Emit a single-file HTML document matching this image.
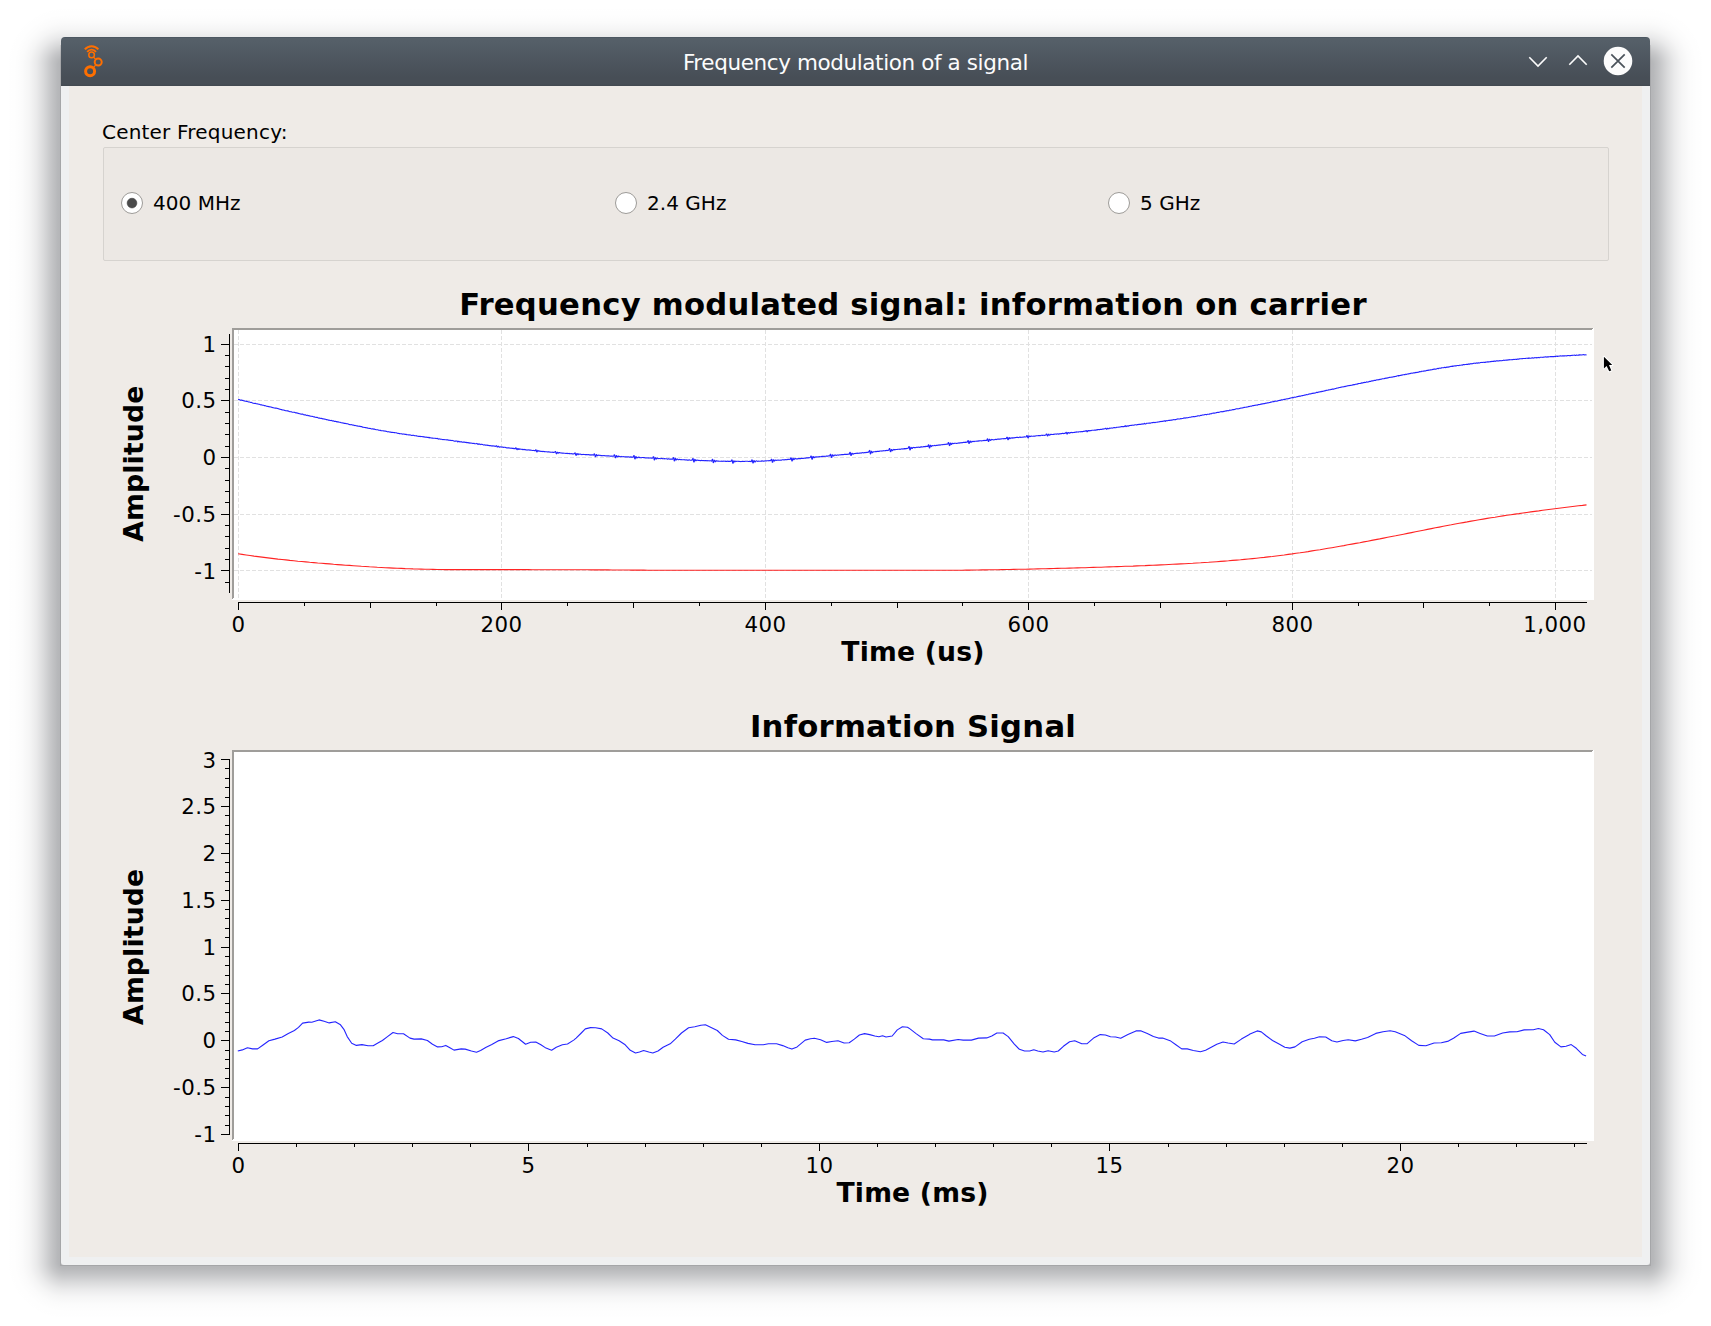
<!DOCTYPE html>
<html lang="en">
<head>
<meta charset="utf-8">
<title>Frequency modulation of a signal</title>
<style>
html,body{margin:0;padding:0;background:#fff;}
body{width:1711px;height:1326px;position:relative;overflow:hidden;
  font-family:"DejaVu Sans","Liberation Sans",sans-serif;color:#000;}
.abs{position:absolute;}
#win{left:61px;top:37px;width:1589px;height:1228px;border-radius:4px 4px 3px 3px;
  background:#eff0f1;overflow:hidden;}
#tbar{left:0;top:0;width:1589px;height:49px;
  background:linear-gradient(#4c5761 0px,#4c5761 1px,#566069 1px,#545e67 6px,#474e56 40px,#474e56 47px,#424950 49px);}
#ttl{left:0;top:0;width:1589px;height:52px;line-height:52px;text-align:center;color:#fcfcfc;
  font-family:"DejaVu Sans","Liberation Sans",sans-serif;font-size:21.5px;letter-spacing:-0.39px;white-space:nowrap;}
#body{left:8px;top:49px;width:1573px;height:1171px;background:#efebe7;}
.lbl{font-size:20px;line-height:24px;white-space:nowrap;letter-spacing:0.2px;}
.rl{letter-spacing:0.04px;}
#grp{left:103px;top:147px;width:1504px;height:112px;border:1px solid #d6d3cf;border-radius:2px;background:#ece8e4;}
svg text{font-family:"DejaVu Sans","Liberation Sans",sans-serif;fill:#000;}
.tl{font-size:21.33px;letter-spacing:0.45px;}
.at{font-size:26.67px;font-weight:bold;letter-spacing:0.18px;}
.pt{font-size:30.67px;font-weight:bold;letter-spacing:0.25px;}
</style>
</head>
<body>
<svg class="abs" style="left:0;top:0" width="1711" height="1326" viewBox="0 0 1711 1326">
<defs>
<linearGradient id="sl" x1="1" y1="0" x2="0" y2="0"><stop offset="0.0000" stop-color="#00040c" stop-opacity="0.3100"/><stop offset="0.1111" stop-color="#00040c" stop-opacity="0.2855"/><stop offset="0.2222" stop-color="#00040c" stop-opacity="0.2230"/><stop offset="0.3333" stop-color="#00040c" stop-opacity="0.1478"/><stop offset="0.4444" stop-color="#00040c" stop-opacity="0.0831"/><stop offset="0.5556" stop-color="#00040c" stop-opacity="0.0396"/><stop offset="0.6667" stop-color="#00040c" stop-opacity="0.0160"/><stop offset="0.7778" stop-color="#00040c" stop-opacity="0.0055"/><stop offset="0.8889" stop-color="#00040c" stop-opacity="0.0016"/><stop offset="0.9999" stop-color="#00040c" stop-opacity="0.0004"/><stop offset="1.0000" stop-color="#00040c" stop-opacity="0.0000"/></linearGradient>
<linearGradient id="sr" x1="0" y1="0" x2="1" y2="0"><stop offset="0.0000" stop-color="#00040c" stop-opacity="0.3100"/><stop offset="0.1111" stop-color="#00040c" stop-opacity="0.2855"/><stop offset="0.2222" stop-color="#00040c" stop-opacity="0.2230"/><stop offset="0.3333" stop-color="#00040c" stop-opacity="0.1478"/><stop offset="0.4444" stop-color="#00040c" stop-opacity="0.0831"/><stop offset="0.5556" stop-color="#00040c" stop-opacity="0.0396"/><stop offset="0.6667" stop-color="#00040c" stop-opacity="0.0160"/><stop offset="0.7778" stop-color="#00040c" stop-opacity="0.0055"/><stop offset="0.8889" stop-color="#00040c" stop-opacity="0.0016"/><stop offset="0.9999" stop-color="#00040c" stop-opacity="0.0004"/><stop offset="1.0000" stop-color="#00040c" stop-opacity="0.0000"/></linearGradient>
<linearGradient id="sb" x1="0" y1="0" x2="0" y2="1"><stop offset="0.0000" stop-color="#00040c" stop-opacity="0.3100"/><stop offset="0.1111" stop-color="#00040c" stop-opacity="0.2855"/><stop offset="0.2222" stop-color="#00040c" stop-opacity="0.2230"/><stop offset="0.3333" stop-color="#00040c" stop-opacity="0.1478"/><stop offset="0.4444" stop-color="#00040c" stop-opacity="0.0831"/><stop offset="0.5556" stop-color="#00040c" stop-opacity="0.0396"/><stop offset="0.6667" stop-color="#00040c" stop-opacity="0.0160"/><stop offset="0.7778" stop-color="#00040c" stop-opacity="0.0055"/><stop offset="0.8889" stop-color="#00040c" stop-opacity="0.0016"/><stop offset="0.9999" stop-color="#00040c" stop-opacity="0.0004"/><stop offset="1.0000" stop-color="#00040c" stop-opacity="0.0000"/></linearGradient>
<linearGradient id="st" x1="0" y1="1" x2="0" y2="0"><stop offset="0.0000" stop-color="#00040c" stop-opacity="0.3100"/><stop offset="0.1111" stop-color="#00040c" stop-opacity="0.2855"/><stop offset="0.2222" stop-color="#00040c" stop-opacity="0.2230"/><stop offset="0.3333" stop-color="#00040c" stop-opacity="0.1478"/><stop offset="0.4444" stop-color="#00040c" stop-opacity="0.0831"/><stop offset="0.5556" stop-color="#00040c" stop-opacity="0.0396"/><stop offset="0.6667" stop-color="#00040c" stop-opacity="0.0160"/><stop offset="0.7778" stop-color="#00040c" stop-opacity="0.0055"/><stop offset="0.8889" stop-color="#00040c" stop-opacity="0.0016"/><stop offset="0.9999" stop-color="#00040c" stop-opacity="0.0004"/><stop offset="1.0000" stop-color="#00040c" stop-opacity="0.0000"/></linearGradient>
<radialGradient id="ctl" cx="1" cy="1" r="1" gradientUnits="objectBoundingBox"><stop offset="0.0000" stop-color="#00040c" stop-opacity="0.3100"/><stop offset="0.1111" stop-color="#00040c" stop-opacity="0.2855"/><stop offset="0.2222" stop-color="#00040c" stop-opacity="0.2230"/><stop offset="0.3333" stop-color="#00040c" stop-opacity="0.1478"/><stop offset="0.4444" stop-color="#00040c" stop-opacity="0.0831"/><stop offset="0.5556" stop-color="#00040c" stop-opacity="0.0396"/><stop offset="0.6667" stop-color="#00040c" stop-opacity="0.0160"/><stop offset="0.7778" stop-color="#00040c" stop-opacity="0.0055"/><stop offset="0.8889" stop-color="#00040c" stop-opacity="0.0016"/><stop offset="0.9999" stop-color="#00040c" stop-opacity="0.0004"/><stop offset="1.0000" stop-color="#00040c" stop-opacity="0.0000"/></radialGradient>
<radialGradient id="ctr" cx="0" cy="1" r="1" gradientUnits="objectBoundingBox"><stop offset="0.0000" stop-color="#00040c" stop-opacity="0.3100"/><stop offset="0.1111" stop-color="#00040c" stop-opacity="0.2855"/><stop offset="0.2222" stop-color="#00040c" stop-opacity="0.2230"/><stop offset="0.3333" stop-color="#00040c" stop-opacity="0.1478"/><stop offset="0.4444" stop-color="#00040c" stop-opacity="0.0831"/><stop offset="0.5556" stop-color="#00040c" stop-opacity="0.0396"/><stop offset="0.6667" stop-color="#00040c" stop-opacity="0.0160"/><stop offset="0.7778" stop-color="#00040c" stop-opacity="0.0055"/><stop offset="0.8889" stop-color="#00040c" stop-opacity="0.0016"/><stop offset="0.9999" stop-color="#00040c" stop-opacity="0.0004"/><stop offset="1.0000" stop-color="#00040c" stop-opacity="0.0000"/></radialGradient>
<radialGradient id="cbl" cx="1" cy="0" r="1" gradientUnits="objectBoundingBox"><stop offset="0.0000" stop-color="#00040c" stop-opacity="0.3100"/><stop offset="0.1111" stop-color="#00040c" stop-opacity="0.2855"/><stop offset="0.2222" stop-color="#00040c" stop-opacity="0.2230"/><stop offset="0.3333" stop-color="#00040c" stop-opacity="0.1478"/><stop offset="0.4444" stop-color="#00040c" stop-opacity="0.0831"/><stop offset="0.5556" stop-color="#00040c" stop-opacity="0.0396"/><stop offset="0.6667" stop-color="#00040c" stop-opacity="0.0160"/><stop offset="0.7778" stop-color="#00040c" stop-opacity="0.0055"/><stop offset="0.8889" stop-color="#00040c" stop-opacity="0.0016"/><stop offset="0.9999" stop-color="#00040c" stop-opacity="0.0004"/><stop offset="1.0000" stop-color="#00040c" stop-opacity="0.0000"/></radialGradient>
<radialGradient id="cbr" cx="0" cy="0" r="1" gradientUnits="objectBoundingBox"><stop offset="0.0000" stop-color="#00040c" stop-opacity="0.3100"/><stop offset="0.1111" stop-color="#00040c" stop-opacity="0.2855"/><stop offset="0.2222" stop-color="#00040c" stop-opacity="0.2230"/><stop offset="0.3333" stop-color="#00040c" stop-opacity="0.1478"/><stop offset="0.4444" stop-color="#00040c" stop-opacity="0.0831"/><stop offset="0.5556" stop-color="#00040c" stop-opacity="0.0396"/><stop offset="0.6667" stop-color="#00040c" stop-opacity="0.0160"/><stop offset="0.7778" stop-color="#00040c" stop-opacity="0.0055"/><stop offset="0.8889" stop-color="#00040c" stop-opacity="0.0016"/><stop offset="0.9999" stop-color="#00040c" stop-opacity="0.0004"/><stop offset="1.0000" stop-color="#00040c" stop-opacity="0.0000"/></radialGradient>
</defs>
<rect x="1" y="65" width="64" height="1196" fill="url(#sl)"/>
<rect x="1646" y="65" width="64" height="1196" fill="url(#sr)"/>
<rect x="65" y="1261" width="1581" height="64" fill="url(#sb)"/>
<rect x="65" y="1" width="1581" height="64" fill="url(#st)"/>
<rect x="1" y="1" width="64" height="64" fill="url(#ctl)"/>
<rect x="1646" y="1" width="64" height="64" fill="url(#ctr)"/>
<rect x="1" y="1261" width="64" height="64" fill="url(#cbl)"/>
<rect x="1646" y="1261" width="64" height="64" fill="url(#cbr)"/>
<g fill="#000" fill-opacity="0.08"><rect x="60" y="45" width="1" height="1221"/><rect x="1650" y="45" width="1" height="1221"/><rect x="61" y="1265" width="1589" height="1"/></g>
</svg>
<div id="win" class="abs">
  <div id="tbar" class="abs"></div>
  <div id="ttl" class="abs">Frequency modulation of a signal</div>
  <div id="body" class="abs"></div>
</div>

<!-- title bar icons -->
<svg class="abs" style="left:0;top:0" width="1711" height="100" viewBox="0 0 1711 100">
  <!-- GNU Radio icon -->
  <g fill="none" stroke="#ff6f00">
    <path d="M84.9,49.4 A8.6,8.6 0 0 1 98.3,49.4" stroke-width="2.1"/>
    <path d="M87.2,51.8 A5.6,5.6 0 0 1 96.0,51.8" stroke-width="1.9"/>
    <circle cx="91.6" cy="54.9" r="2.8" stroke-width="1.5"/>
    <circle cx="98.2" cy="62.1" r="3.5" stroke-width="2"/>
    <circle cx="90.1" cy="71.3" r="4.5" stroke-width="3"/>
    <path d="M93.6,57.1 L95.8,59.5 M95.6,65.2 L93.4,67.6" stroke-width="1.2"/>
  </g>
  <!-- minimize / maximize chevrons -->
  <g fill="none" stroke="#fcfcfc" stroke-width="1.6" stroke-linejoin="miter">
    <path d="M1529.3,57.3 L1538,66 L1546.7,57.3"/>
    <path d="M1569.3,64.7 L1578,56 L1586.7,64.7"/>
  </g>
  <!-- close -->
  <circle cx="1618" cy="61" r="14.3" fill="#fcfcfc"/>
  <path d="M1611.3,54.3 L1624.7,67.7 M1624.7,54.3 L1611.3,67.7" stroke="#4a525a" stroke-width="1.7" fill="none"/>
</svg>

<!-- widgets -->
<div class="abs lbl" style="left:102px;top:120px;">Center Frequency:</div>
<div id="grp" class="abs"></div>
<div class="abs lbl rl" style="left:153px;top:191px;">400 MHz</div>
<div class="abs lbl rl" style="left:647px;top:191px;">2.4 GHz</div>
<div class="abs lbl rl" style="left:1140px;top:191px;">5 GHz</div>

<!-- plots -->
<svg class="abs" style="left:0;top:0" width="1711" height="1326" viewBox="0 0 1711 1326">
<rect x="232" y="328" width="1362" height="272" fill="#fff"/>
<g fill="#9f9d9a"><rect x="232" y="328" width="1361" height="2"/><rect x="232" y="328" width="2" height="271"/></g>
<g fill="#fff"><rect x="233" y="598" width="1361" height="2"/><rect x="1592" y="329" width="2" height="271"/></g>
<g stroke="#e1e1e1" stroke-width="1" stroke-dasharray="4 2" fill="none" shape-rendering="crispEdges">
<path d="M234,344.5 H1592"/>
<path d="M234,400.5 H1592"/>
<path d="M234,457.5 H1592"/>
<path d="M234,514.5 H1592"/>
<path d="M234,570.5 H1592"/>
<path d="M238.5,330 V598"/>
<path d="M501.5,330 V598"/>
<path d="M765.5,330 V598"/>
<path d="M1028.5,330 V598"/>
<path d="M1292.5,330 V598"/>
<path d="M1555.5,330 V598"/>
</g>
<clipPath id="c1"><rect x="234" y="330" width="1358" height="268"/></clipPath>
<g clip-path="url(#c1)" fill="none" stroke-width="1.1" stroke-opacity="0.86" stroke-linejoin="round">
<path stroke="#0000ff" d="M238.1,399.4 L238.6,399.6 L239.1,399.5 L239.6,399.8 L240.1,400.1 L240.6,400.2 L241.1,400.0 L241.6,400.1 L242.1,400.2 L242.6,400.5 L243.1,400.4 L243.6,400.7 L244.1,400.9 L244.6,400.9 L245.1,401.2 L245.6,401.2 L246.1,401.1 L246.6,401.5 L247.1,401.4 L247.6,401.6 L248.1,401.7 L248.6,402.0 L249.1,402.0 L249.6,402.0 L250.1,402.3 L250.6,402.5 L251.1,402.4 L251.6,402.5 L252.1,402.7 L252.6,403.0 L253.1,403.2 L253.6,403.2 L254.1,403.4 L254.6,403.5 L255.1,403.4 L255.6,403.4 L256.1,403.7 L256.6,403.8 L257.1,403.9 L257.6,403.9 L258.1,404.1 L258.6,404.3 L259.1,404.3 L259.6,404.4 L260.1,404.6 L260.6,404.9 L261.1,404.9 L261.6,404.9 L262.1,405.0 L262.6,405.2 L263.1,405.2 L263.6,405.3 L264.1,405.6 L264.6,405.5 L265.1,405.8 L265.6,405.8 L266.1,406.1 L266.6,406.2 L267.1,406.3 L267.6,406.5 L268.1,406.4 L268.6,406.7 L269.1,406.6 L269.6,406.9 L270.1,406.9 L270.6,407.0 L271.1,407.0 L271.6,407.2 L272.1,407.6 L272.6,407.4 L273.1,407.7 L273.6,407.8 L274.1,408.0 L274.6,408.0 L275.1,408.1 L275.6,408.0 L276.1,408.1 L276.6,408.3 L277.1,408.4 L277.6,408.5 L278.1,408.6 L278.6,408.9 L279.1,408.9 L279.6,409.3 L280.1,409.3 L280.6,409.4 L281.1,409.6 L281.6,409.5 L282.1,409.9 L282.6,410.0 L283.1,410.0 L283.6,410.0 L284.1,410.3 L284.6,410.4 L285.1,410.5 L285.6,410.7 L286.1,410.7 L286.6,410.7 L287.1,410.9 L287.6,410.8 L288.1,410.9 L288.6,411.3 L289.1,411.4 L289.6,411.6 L290.1,411.7 L290.6,411.7 L291.1,411.6 L291.6,411.9 L292.1,412.2 L292.6,412.2 L293.1,412.2 L293.6,412.3 L294.1,412.3 L294.6,412.4 L295.1,412.5 L295.6,412.9 L296.1,412.9 L296.6,412.8 L297.1,413.1 L297.6,413.0 L298.1,413.2 L298.6,413.5 L299.1,413.6 L299.6,413.7 L300.1,413.7 L300.6,414.0 L301.1,414.2 L301.6,414.1 L302.1,414.0 L302.6,414.1 L303.1,414.3 L303.6,414.8 L304.1,414.7 L304.6,414.9 L305.1,414.8 L305.6,414.9 L306.1,415.2 L306.6,415.4 L307.1,415.3 L307.6,415.3 L308.1,415.7 L308.6,415.6 L309.1,415.9 L309.6,415.7 L310.1,416.1 L310.6,416.3 L311.1,416.3 L311.6,416.3 L312.1,416.5 L312.6,416.4 L313.1,416.6 L313.6,416.7 L314.1,417.0 L314.6,416.8 L315.1,417.3 L315.6,417.3 L316.1,417.5 L316.6,417.4 L317.1,417.4 L317.6,417.5 L318.1,417.9 L318.6,418.1 L319.1,418.1 L319.6,418.1 L320.1,418.1 L320.6,418.4 L321.1,418.6 L321.6,418.3 L322.1,418.5 L322.6,418.9 L323.1,419.0 L323.6,418.9 L324.1,419.0 L324.6,419.1 L325.1,419.3 L325.6,419.2 L326.1,419.6 L326.6,419.6 L327.1,419.8 L327.6,419.7 L328.1,420.1 L328.6,420.1 L329.1,420.1 L329.6,420.4 L330.1,420.4 L330.6,420.6 L331.1,420.4 L331.6,420.5 L332.1,420.9 L332.6,420.8 L333.1,421.0 L333.6,420.9 L334.1,421.4 L334.6,421.3 L335.1,421.5 L335.6,421.3 L336.1,421.6 L336.6,421.5 L337.1,422.0 L337.6,421.9 L338.1,421.8 L338.6,422.0 L339.1,422.3 L339.6,422.2 L340.1,422.3 L340.6,422.5 L341.1,422.7 L341.6,422.8 L342.1,422.9 L342.6,422.9 L343.1,423.1 L343.6,423.0 L344.1,423.2 L344.6,423.5 L345.1,423.3 L345.6,423.5 L346.1,423.6 L346.6,423.8 L347.1,423.7 L347.6,423.8 L348.1,424.1 L348.6,424.1 L349.1,424.4 L349.6,424.6 L350.1,424.6 L350.6,424.7 L351.1,424.7 L351.6,424.6 L352.1,424.9 L352.6,425.0 L353.1,425.2 L353.6,425.1 L354.1,425.2 L354.6,425.6 L355.1,425.4 L355.6,425.6 L356.1,425.9 L356.6,425.7 L357.1,425.8 L357.6,426.1 L358.1,426.2 L358.6,426.3 L359.1,426.1 L359.6,426.4 L360.1,426.3 L360.6,426.5 L361.1,426.8 L361.6,426.6 L362.1,426.8 L362.6,427.2 L363.1,427.3 L363.6,427.2 L364.1,427.4 L364.6,427.5 L365.1,427.5 L365.6,427.8 L366.1,427.6 L366.6,427.9 L367.1,427.7 L367.6,428.2 L368.1,428.2 L368.6,428.2 L369.1,428.4 L369.6,428.4 L370.1,428.6 L370.6,428.4 L371.1,428.7 L371.6,428.9 L372.1,429.0 L372.6,428.8 L373.1,428.9 L373.6,429.3 L374.1,429.1 L374.6,429.1 L375.1,429.5 L375.6,429.5 L376.1,429.7 L376.6,429.7 L377.1,429.8 L377.6,429.8 L378.1,429.9 L378.6,430.2 L379.1,430.2 L379.6,430.3 L380.1,430.5 L380.6,430.3 L381.1,430.7 L381.6,430.7 L382.1,430.7 L382.6,430.8 L383.1,430.7 L383.6,431.0 L384.1,430.9 L384.6,431.1 L385.1,431.0 L385.6,431.1 L386.1,431.4 L386.6,431.4 L387.1,431.6 L387.6,431.7 L388.1,431.9 L388.6,431.6 L389.1,431.9 L389.6,432.0 L390.1,432.1 L390.6,432.1 L391.1,432.2 L391.6,432.4 L392.1,432.3 L392.6,432.4 L393.1,432.6 L393.6,432.4 L394.1,432.6 L394.6,432.6 L395.1,432.7 L395.6,432.7 L396.1,432.8 L396.6,432.9 L397.1,433.1 L397.6,433.2 L398.1,433.4 L398.6,433.4 L399.1,433.6 L399.6,433.5 L400.1,433.7 L400.6,433.7 L401.1,433.8 L401.6,433.7 L402.1,434.1 L402.6,434.1 L403.1,433.9 L403.6,434.1 L404.1,434.4 L404.6,434.1 L405.1,434.2 L405.6,434.5 L406.1,434.3 L406.6,434.7 L407.2,434.7 L407.7,434.8 L408.2,434.8 L408.7,435.0 L409.2,434.8 L409.7,435.0 L410.2,434.9 L410.7,435.1 L411.2,435.2 L411.7,435.5 L412.2,435.5 L412.7,435.2 L413.2,435.3 L413.7,435.4 L414.2,435.5 L414.7,435.8 L415.2,435.8 L415.7,435.8 L416.2,435.9 L416.7,435.7 L417.2,436.0 L417.7,436.2 L418.2,436.2 L418.7,436.4 L419.2,436.3 L419.7,436.5 L420.2,436.3 L420.7,436.6 L421.2,436.5 L421.7,436.5 L422.2,436.6 L422.7,436.7 L423.2,436.6 L423.7,437.0 L424.2,436.8 L424.7,437.1 L425.2,437.1 L425.7,437.2 L426.2,437.1 L426.7,437.2 L427.2,437.5 L427.7,437.4 L428.2,437.3 L428.7,437.7 L429.2,437.4 L429.7,437.9 L430.2,437.7 L430.7,437.8 L431.2,438.1 L431.7,437.9 L432.2,438.1 L432.7,438.0 L433.2,438.3 L433.7,438.3 L434.2,438.3 L434.7,438.2 L435.2,438.3 L435.7,438.5 L436.2,438.4 L436.7,438.6 L437.2,438.4 L437.7,438.5 L438.2,439.0 L438.7,439.1 L439.2,438.9 L439.7,439.0 L440.2,439.1 L440.7,439.2 L441.2,439.3 L441.7,439.2 L442.2,439.4 L442.7,439.6 L443.2,439.6 L443.7,439.5 L444.2,439.5 L444.7,439.7 L445.2,439.8 L445.7,439.8 L446.2,439.8 L446.7,439.9 L447.2,439.8 L447.7,439.9 L448.2,439.9 L448.7,440.2 L449.2,440.4 L449.7,440.1 L450.2,440.2 L450.7,440.5 L451.2,440.4 L451.7,440.6 L452.2,440.4 L452.7,440.6 L453.2,440.8 L453.7,440.9 L454.2,441.1 L454.7,441.2 L455.2,441.0 L455.7,441.1 L456.2,441.1 L456.7,441.0 L457.2,441.0 L457.7,441.9 L458.2,441.8 L458.7,441.2 L459.2,441.5 L459.7,441.9 L460.2,442.0 L460.7,441.7 L461.2,441.6 L461.7,442.0 L462.2,442.2 L462.7,442.1 L463.2,442.1 L463.7,442.1 L464.2,442.3 L464.7,442.1 L465.2,442.5 L465.7,442.4 L466.2,442.3 L466.7,442.7 L467.2,442.6 L467.7,442.5 L468.2,442.6 L468.7,443.0 L469.2,442.7 L469.7,443.1 L470.2,443.2 L470.7,442.9 L471.2,443.1 L471.7,443.3 L472.2,443.3 L472.7,443.5 L473.2,443.4 L473.7,443.5 L474.2,443.4 L474.7,443.8 L475.2,443.8 L475.7,443.8 L476.2,443.7 L476.7,443.4 L477.2,443.6 L477.7,444.3 L478.2,444.5 L478.7,443.9 L479.2,443.9 L479.7,444.3 L480.2,444.6 L480.7,444.2 L481.2,444.3 L481.7,444.4 L482.2,444.4 L482.7,444.6 L483.2,444.9 L483.7,445.0 L484.2,444.9 L484.7,444.9 L485.2,445.1 L485.7,445.1 L486.2,445.1 L486.7,445.2 L487.2,445.1 L487.7,445.5 L488.2,445.2 L488.7,445.4 L489.2,445.7 L489.7,445.6 L490.2,445.6 L490.7,445.8 L491.2,445.9 L491.7,445.9 L492.2,445.7 L492.7,446.1 L493.2,445.8 L493.7,446.1 L494.2,446.3 L494.7,446.0 L495.2,446.3 L495.7,446.4 L496.2,445.7 L496.7,445.8 L497.2,446.9 L497.7,447.0 L498.2,446.2 L498.7,446.3 L499.2,447.1 L499.7,447.1 L500.2,446.9 L500.7,446.9 L501.2,447.1 L501.7,446.9 L502.2,447.1 L502.7,447.0 L503.2,447.2 L503.7,447.4 L504.2,447.3 L504.7,447.3 L505.2,447.4 L505.7,447.5 L506.2,447.8 L506.7,447.9 L507.2,447.8 L507.7,448.0 L508.2,447.9 L508.7,447.8 L509.2,447.9 L509.7,448.1 L510.2,448.1 L510.7,448.2 L511.2,448.2 L511.7,448.1 L512.2,448.5 L512.7,448.2 L513.2,448.6 L513.7,448.3 L514.2,448.7 L514.7,448.5 L515.2,448.8 L515.7,447.8 L516.2,448.0 L516.7,449.4 L517.2,449.7 L517.7,448.6 L518.2,448.6 L518.7,449.4 L519.2,449.5 L519.7,448.8 L520.2,449.1 L520.7,449.3 L521.2,449.3 L521.7,449.2 L522.2,449.6 L522.7,449.3 L523.2,449.7 L523.7,449.5 L524.2,449.4 L524.7,449.8 L525.2,449.5 L525.7,449.9 L526.2,449.9 L526.7,450.0 L527.2,450.1 L527.7,449.9 L528.2,449.9 L528.7,450.0 L529.2,449.9 L529.7,450.2 L530.2,450.0 L530.7,450.1 L531.2,450.2 L531.7,450.3 L532.2,450.5 L532.7,450.5 L533.2,450.5 L533.7,450.4 L534.2,450.6 L534.7,450.5 L535.2,450.8 L535.7,449.7 L536.2,450.0 L536.7,451.9 L537.2,451.9 L537.7,450.4 L538.2,450.5 L538.7,451.3 L539.2,451.3 L539.7,450.9 L540.2,451.3 L540.7,451.4 L541.2,451.5 L541.7,451.4 L542.2,451.3 L542.7,451.6 L543.2,451.5 L543.7,451.4 L544.2,451.7 L544.7,451.5 L545.2,451.8 L545.7,451.8 L546.2,451.7 L546.7,451.8 L547.2,451.9 L547.7,452.0 L548.2,451.9 L548.7,451.8 L549.2,451.9 L549.7,452.1 L550.2,452.1 L550.7,452.2 L551.2,452.3 L551.7,452.2 L552.2,452.1 L552.7,452.4 L553.2,452.3 L553.7,452.4 L554.2,452.3 L554.7,452.3 L555.2,451.5 L555.7,451.6 L556.2,453.5 L556.7,453.8 L557.2,452.4 L557.7,452.3 L558.2,453.2 L558.7,453.0 L559.2,452.5 L559.7,452.6 L560.2,452.7 L560.7,452.9 L561.2,453.1 L561.7,452.9 L562.2,453.2 L562.7,453.1 L563.2,453.0 L563.7,453.2 L564.2,453.2 L564.7,453.2 L565.2,453.3 L565.7,453.5 L566.2,453.5 L566.7,453.3 L567.2,453.6 L567.7,453.3 L568.2,453.5 L568.7,453.5 L569.2,453.8 L569.7,453.4 L570.2,453.7 L570.7,453.7 L571.2,453.6 L571.7,453.8 L572.2,453.9 L572.7,453.9 L573.2,453.7 L573.7,454.0 L574.2,453.8 L574.7,453.0 L575.2,452.9 L575.7,455.1 L576.2,455.4 L576.7,453.6 L577.2,453.6 L577.7,454.6 L578.2,454.6 L578.7,453.8 L579.2,454.2 L579.7,454.2 L580.2,454.2 L580.7,454.1 L581.2,454.5 L581.7,454.6 L582.2,454.4 L582.7,454.6 L583.2,454.4 L583.7,454.5 L584.2,454.5 L584.7,454.5 L585.2,454.6 L585.7,454.6 L586.2,454.5 L586.7,454.8 L587.2,454.6 L587.7,454.7 L588.2,454.6 L588.7,454.6 L589.2,454.9 L589.7,454.8 L590.2,455.1 L590.7,454.7 L591.2,455.1 L591.7,454.8 L592.2,454.9 L592.7,454.8 L593.2,455.1 L593.7,455.0 L594.2,453.8 L594.7,454.1 L595.2,456.6 L595.7,456.8 L596.2,454.8 L596.7,454.6 L597.2,455.8 L597.7,455.7 L598.2,455.1 L598.7,455.3 L599.2,455.4 L599.7,455.3 L600.2,455.3 L600.7,455.6 L601.2,455.6 L601.7,455.6 L602.2,455.5 L602.7,455.7 L603.2,455.7 L603.7,455.5 L604.2,455.5 L604.7,455.8 L605.2,455.9 L605.7,455.8 L606.2,455.7 L606.7,455.9 L607.2,455.7 L607.7,455.9 L608.2,455.9 L608.7,455.7 L609.2,456.0 L609.7,456.0 L610.2,456.2 L610.7,456.1 L611.2,456.0 L611.7,456.1 L612.2,456.0 L612.7,456.2 L613.2,456.2 L613.7,456.2 L614.2,454.7 L614.7,455.0 L615.2,457.7 L615.7,457.8 L616.2,455.5 L616.7,455.8 L617.2,457.0 L617.7,456.9 L618.2,456.0 L618.7,456.4 L619.2,456.5 L619.7,456.4 L620.2,456.6 L620.7,456.7 L621.2,456.4 L621.7,456.6 L622.2,456.7 L622.7,456.8 L623.2,456.5 L623.7,456.7 L624.2,456.8 L624.7,456.8 L625.2,456.9 L625.7,456.9 L626.2,456.9 L626.7,456.9 L627.2,456.7 L627.7,457.0 L628.2,456.9 L628.7,456.7 L629.2,457.1 L629.7,457.1 L630.2,457.1 L630.7,456.8 L631.2,457.2 L631.7,457.0 L632.2,457.2 L632.7,457.0 L633.2,457.1 L633.7,455.6 L634.2,455.6 L634.7,458.7 L635.2,458.9 L635.7,456.6 L636.2,456.6 L636.7,458.0 L637.2,458.0 L637.7,457.4 L638.2,457.1 L638.7,457.3 L639.2,457.7 L639.7,457.3 L640.2,457.6 L640.7,457.7 L641.2,457.7 L641.7,457.6 L642.2,457.5 L642.7,457.5 L643.2,457.5 L643.7,457.6 L644.2,457.7 L644.7,457.6 L645.2,458.0 L645.7,458.0 L646.2,457.7 L646.7,457.9 L647.2,458.0 L647.7,457.9 L648.2,457.8 L648.7,458.1 L649.2,458.0 L649.7,458.0 L650.2,458.1 L650.7,457.9 L651.2,458.1 L651.7,458.0 L652.2,458.2 L652.7,458.0 L653.2,456.8 L653.7,456.7 L654.2,460.0 L654.7,459.7 L655.2,457.7 L655.7,457.7 L656.2,459.0 L656.7,458.9 L657.2,458.1 L657.7,458.1 L658.2,458.6 L658.7,458.5 L659.2,458.5 L659.7,458.5 L660.2,458.7 L660.7,458.6 L661.2,458.4 L661.7,458.4 L662.2,458.7 L662.7,458.6 L663.2,458.7 L663.7,458.7 L664.2,458.5 L664.7,458.9 L665.2,458.7 L665.7,458.8 L666.2,458.8 L666.7,458.7 L667.2,459.1 L667.7,459.1 L668.2,458.7 L668.7,458.7 L669.2,458.9 L669.7,459.2 L670.2,459.0 L670.7,459.2 L671.2,459.0 L671.7,459.1 L672.2,459.3 L672.7,459.2 L673.2,457.6 L673.7,457.7 L674.2,460.9 L674.7,460.8 L675.2,458.4 L675.7,458.5 L676.2,460.0 L676.7,459.8 L677.2,459.0 L677.7,459.1 L678.2,459.6 L678.7,459.7 L679.2,459.5 L679.7,459.4 L680.2,459.5 L680.7,459.7 L681.2,459.6 L681.7,459.8 L682.2,459.8 L682.7,459.8 L683.2,459.8 L683.7,459.7 L684.2,459.6 L684.7,459.9 L685.2,460.0 L685.7,459.9 L686.2,459.7 L686.7,460.0 L687.2,460.1 L687.7,460.1 L688.2,460.0 L688.7,460.1 L689.2,459.8 L689.7,460.0 L690.2,460.2 L690.7,460.3 L691.2,460.2 L691.7,460.1 L692.2,460.2 L692.7,458.6 L693.2,458.5 L693.7,462.0 L694.2,461.9 L694.7,459.4 L695.2,459.5 L695.7,460.7 L696.2,460.7 L696.7,460.1 L697.2,460.0 L697.7,460.3 L698.2,460.5 L698.7,460.2 L699.2,460.6 L699.7,460.4 L700.2,460.6 L700.7,460.6 L701.2,460.6 L701.7,460.3 L702.2,460.6 L702.7,460.5 L703.2,460.5 L703.7,460.6 L704.2,460.7 L704.7,460.6 L705.2,460.6 L705.7,460.6 L706.2,460.6 L706.7,460.8 L707.2,460.9 L707.7,460.6 L708.2,460.8 L708.7,460.8 L709.2,460.9 L709.7,460.8 L710.2,460.7 L710.7,460.8 L711.2,461.0 L711.7,461.1 L712.2,459.5 L712.7,459.3 L713.2,462.6 L713.7,462.5 L714.2,460.3 L714.7,460.2 L715.2,461.7 L715.7,461.7 L716.2,460.8 L716.7,460.7 L717.2,461.0 L717.7,461.1 L718.2,461.2 L718.7,461.0 L719.2,461.2 L719.7,461.3 L720.2,461.3 L720.7,461.3 L721.2,461.4 L721.7,461.1 L722.2,461.1 L722.7,461.4 L723.2,461.2 L723.7,461.1 L724.2,461.3 L724.7,461.3 L725.2,461.1 L725.7,461.5 L726.2,461.3 L726.7,461.5 L727.2,461.2 L727.7,461.1 L728.2,461.5 L728.7,461.2 L729.2,461.5 L729.7,461.3 L730.2,461.4 L730.7,461.2 L731.2,461.3 L731.7,459.9 L732.2,460.1 L732.7,463.2 L733.2,463.2 L733.7,460.8 L734.2,460.9 L734.7,461.9 L735.2,461.8 L735.7,461.1 L736.2,461.2 L736.7,461.4 L737.2,461.2 L737.7,461.3 L738.2,461.3 L738.7,461.4 L739.2,461.4 L739.7,461.5 L740.2,461.5 L740.7,461.6 L741.2,461.4 L741.7,461.6 L742.2,461.4 L742.7,461.4 L743.2,461.4 L743.8,461.5 L744.3,461.5 L744.8,461.4 L745.3,461.3 L745.8,461.2 L746.3,461.3 L746.8,461.2 L747.3,461.3 L747.8,461.3 L748.3,461.5 L748.8,461.5 L749.3,461.4 L749.8,461.4 L750.3,461.3 L750.8,461.6 L751.3,461.6 L751.8,459.9 L752.3,460.0 L752.8,462.9 L753.3,463.0 L753.8,460.5 L754.3,460.8 L754.8,461.9 L755.3,462.0 L755.8,461.1 L756.3,460.8 L756.8,461.1 L757.3,461.3 L757.8,461.4 L758.3,461.3 L758.8,461.1 L759.3,461.2 L759.8,461.2 L760.3,461.3 L760.8,461.2 L761.3,460.9 L761.8,461.3 L762.3,460.9 L762.8,461.0 L763.3,461.2 L763.8,461.1 L764.3,461.1 L764.8,460.9 L765.3,460.9 L765.8,460.8 L766.3,461.0 L766.8,460.8 L767.3,460.7 L767.8,460.7 L768.3,460.6 L768.8,460.9 L769.3,460.6 L769.8,460.6 L770.3,460.8 L770.8,460.6 L771.3,459.3 L771.8,459.2 L772.3,462.3 L772.8,462.2 L773.3,459.8 L773.8,459.8 L774.3,461.1 L774.8,460.8 L775.3,460.0 L775.8,460.2 L776.3,460.4 L776.8,460.3 L777.3,460.2 L777.8,460.1 L778.3,460.2 L778.8,460.1 L779.3,460.3 L779.8,460.2 L780.3,460.2 L780.8,460.1 L781.3,460.2 L781.8,460.0 L782.3,459.8 L782.8,459.8 L783.3,459.7 L783.8,459.9 L784.3,459.9 L784.8,459.8 L785.3,459.6 L785.8,459.8 L786.3,459.7 L786.8,459.5 L787.3,459.6 L787.8,459.3 L788.3,459.5 L788.8,459.2 L789.3,459.3 L789.8,459.5 L790.3,459.4 L790.8,457.7 L791.3,457.9 L791.8,460.9 L792.3,461.0 L792.8,458.4 L793.3,458.4 L793.8,459.7 L794.3,459.4 L794.8,458.6 L795.3,458.5 L795.8,458.7 L796.3,459.0 L796.8,458.9 L797.3,458.8 L797.8,458.9 L798.3,458.5 L798.8,458.7 L799.3,458.6 L799.8,458.5 L800.3,458.6 L800.8,458.6 L801.3,458.4 L801.8,458.4 L802.3,458.5 L802.8,458.2 L803.3,458.4 L803.8,458.2 L804.3,458.3 L804.8,458.2 L805.3,458.1 L805.8,458.2 L806.3,457.9 L806.8,457.8 L807.3,457.9 L807.8,457.7 L808.3,458.0 L808.8,457.6 L809.3,457.7 L809.8,457.6 L810.3,457.4 L810.8,456.1 L811.3,456.0 L811.8,459.1 L812.3,459.3 L812.8,456.5 L813.3,456.6 L813.8,457.7 L814.3,457.8 L814.8,456.9 L815.3,457.0 L815.8,457.2 L816.3,456.8 L816.8,457.0 L817.3,457.0 L817.8,456.8 L818.3,456.8 L818.8,457.0 L819.3,456.6 L819.8,456.8 L820.3,456.8 L820.8,456.7 L821.3,456.4 L821.8,456.7 L822.3,456.3 L822.8,456.2 L823.3,456.4 L823.8,456.2 L824.3,456.2 L824.8,456.4 L825.3,456.2 L825.8,456.2 L826.3,456.3 L826.8,455.9 L827.3,456.3 L827.8,456.1 L828.3,456.0 L828.8,455.7 L829.3,456.0 L829.8,455.8 L830.3,454.2 L830.8,454.3 L831.3,457.3 L831.8,457.5 L832.3,455.0 L832.8,454.8 L833.3,455.9 L833.8,456.0 L834.3,455.4 L834.8,455.0 L835.3,455.3 L835.8,455.1 L836.3,455.2 L836.8,455.4 L837.3,455.1 L837.8,454.9 L838.3,455.1 L838.8,455.1 L839.3,454.9 L839.8,454.7 L840.3,454.8 L840.8,454.9 L841.3,454.8 L841.8,454.5 L842.3,454.8 L842.8,454.5 L843.3,454.6 L843.8,454.5 L844.3,454.4 L844.8,454.4 L845.3,454.3 L845.8,454.4 L846.3,454.2 L846.8,454.5 L847.3,454.4 L847.8,454.3 L848.3,454.0 L848.8,454.3 L849.3,454.3 L849.8,452.3 L850.3,452.3 L850.8,455.4 L851.3,455.5 L851.8,453.2 L852.3,453.3 L852.8,454.3 L853.3,454.2 L853.8,453.5 L854.3,453.5 L854.8,453.6 L855.3,453.5 L855.8,453.4 L856.3,453.4 L856.8,453.3 L857.3,453.1 L857.8,453.5 L858.3,453.2 L858.8,453.3 L859.3,453.1 L859.8,453.2 L860.3,452.9 L860.8,453.1 L861.3,453.1 L861.8,452.7 L862.3,452.8 L862.8,452.6 L863.3,452.9 L863.8,452.7 L864.3,452.5 L864.8,452.8 L865.3,452.8 L865.8,452.4 L866.3,452.6 L866.8,452.2 L867.3,452.5 L867.8,452.3 L868.3,452.1 L868.8,452.2 L869.3,450.7 L869.8,450.4 L870.3,453.9 L870.8,453.7 L871.3,451.3 L871.8,451.4 L872.3,452.7 L872.8,452.5 L873.3,451.7 L873.8,451.7 L874.3,451.8 L874.8,451.7 L875.3,451.8 L875.8,451.4 L876.3,451.7 L876.8,451.4 L877.3,451.3 L877.8,451.4 L878.3,451.4 L878.8,451.3 L879.3,451.4 L879.8,451.0 L880.3,451.0 L880.8,451.0 L881.3,451.1 L881.8,450.9 L882.3,451.0 L882.8,450.9 L883.3,450.6 L883.8,450.9 L884.3,450.8 L884.8,450.7 L885.3,450.6 L885.8,450.8 L886.3,450.6 L886.8,450.3 L887.3,450.4 L887.8,450.6 L888.3,450.2 L888.8,450.1 L889.3,448.6 L889.8,448.5 L890.3,451.6 L890.8,451.8 L891.3,449.5 L891.8,449.5 L892.3,450.7 L892.8,450.4 L893.3,449.7 L893.8,449.4 L894.3,449.9 L894.8,449.6 L895.3,449.7 L895.8,449.5 L896.3,449.5 L896.8,449.5 L897.3,449.5 L897.8,449.3 L898.3,449.2 L898.8,449.3 L899.3,449.4 L899.8,449.1 L900.3,449.4 L900.8,449.1 L901.3,449.0 L901.8,448.9 L902.3,449.1 L902.8,448.8 L903.3,448.9 L903.8,448.8 L904.3,449.0 L904.8,448.5 L905.3,448.9 L905.8,448.5 L906.3,448.7 L906.8,448.4 L907.3,448.5 L907.8,448.3 L908.3,448.2 L908.8,446.6 L909.3,446.6 L909.8,450.0 L910.3,449.8 L910.8,447.3 L911.3,447.5 L911.8,448.5 L912.3,448.5 L912.8,447.5 L913.3,447.4 L913.8,447.6 L914.3,447.6 L914.8,447.6 L915.3,447.7 L915.8,447.5 L916.3,447.4 L916.8,447.3 L917.3,447.3 L917.8,447.4 L918.3,447.1 L918.8,447.3 L919.3,447.4 L919.8,447.2 L920.3,447.0 L920.8,447.2 L921.3,446.8 L921.8,446.8 L922.3,447.0 L922.8,447.0 L923.3,446.7 L923.8,446.5 L924.3,446.7 L924.8,446.5 L925.3,446.7 L925.8,446.3 L926.3,446.5 L926.8,446.2 L927.3,446.5 L927.8,446.5 L928.3,444.8 L928.8,444.8 L929.3,447.9 L929.8,447.9 L930.3,445.2 L930.8,445.2 L931.3,446.6 L931.8,446.3 L932.3,445.5 L932.8,445.7 L933.3,445.7 L933.8,445.7 L934.3,445.5 L934.8,445.4 L935.3,445.7 L935.8,445.5 L936.3,445.2 L936.8,445.5 L937.3,445.4 L937.8,445.1 L938.3,445.3 L938.8,445.0 L939.3,444.9 L939.8,445.2 L940.3,445.0 L940.8,444.9 L941.3,444.8 L941.8,444.7 L942.3,444.6 L942.8,444.7 L943.3,444.6 L943.8,444.4 L944.3,444.6 L944.8,444.3 L945.3,444.3 L945.8,444.5 L946.3,444.3 L946.8,444.1 L947.3,444.2 L947.8,444.0 L948.3,442.5 L948.8,442.8 L949.3,445.4 L949.8,445.6 L950.3,443.2 L950.8,443.0 L951.3,444.5 L951.8,444.3 L952.3,443.3 L952.8,443.3 L953.3,443.6 L953.8,443.5 L954.3,443.4 L954.8,443.3 L955.3,443.3 L955.8,443.3 L956.3,443.5 L956.8,443.4 L957.3,443.2 L957.8,443.3 L958.3,442.9 L958.8,443.1 L959.3,443.1 L959.8,442.8 L960.3,442.9 L960.8,442.8 L961.3,442.6 L961.8,442.9 L962.3,442.6 L962.8,442.6 L963.3,442.3 L963.8,442.5 L964.3,442.4 L964.8,442.5 L965.3,442.1 L965.8,442.5 L966.3,442.1 L966.8,442.3 L967.3,442.2 L967.8,440.7 L968.3,440.6 L968.8,443.5 L969.3,443.5 L969.8,441.2 L970.3,441.0 L970.8,442.4 L971.3,442.3 L971.8,441.4 L972.3,441.3 L972.8,441.8 L973.3,441.5 L973.8,441.3 L974.3,441.6 L974.8,441.3 L975.3,441.3 L975.8,441.3 L976.3,441.2 L976.8,441.1 L977.3,441.0 L977.8,441.1 L978.3,440.9 L978.8,441.2 L979.3,440.8 L979.8,440.7 L980.3,440.7 L980.8,440.7 L981.3,440.9 L981.8,440.7 L982.3,440.8 L982.8,440.8 L983.3,440.4 L983.8,440.6 L984.3,440.6 L984.8,440.3 L985.3,440.6 L985.8,440.4 L986.3,440.3 L986.8,440.5 L987.3,438.8 L987.8,439.0 L988.3,441.4 L988.8,441.5 L989.3,439.2 L989.8,439.3 L990.3,440.3 L990.8,440.5 L991.3,439.8 L991.8,439.4 L992.3,439.6 L992.8,439.8 L993.3,439.9 L993.8,439.8 L994.3,439.7 L994.8,439.6 L995.3,439.5 L995.8,439.2 L996.3,439.6 L996.8,439.4 L997.3,439.3 L997.8,439.0 L998.3,439.1 L998.8,439.1 L999.3,439.3 L999.8,439.1 L1000.3,439.1 L1000.8,438.9 L1001.3,439.0 L1001.8,438.8 L1002.3,438.8 L1002.8,438.8 L1003.3,438.6 L1003.8,438.9 L1004.3,438.6 L1004.8,438.6 L1005.3,438.8 L1005.8,438.5 L1006.3,438.5 L1006.8,437.3 L1007.3,437.2 L1007.8,439.6 L1008.3,439.7 L1008.8,437.8 L1009.3,437.6 L1009.8,438.7 L1010.3,438.5 L1010.8,437.9 L1011.3,438.1 L1011.8,437.8 L1012.3,438.2 L1012.8,437.7 L1013.3,438.0 L1013.8,437.8 L1014.3,437.9 L1014.8,437.6 L1015.3,437.6 L1015.8,437.5 L1016.3,437.4 L1016.8,437.5 L1017.3,437.3 L1017.8,437.4 L1018.3,437.6 L1018.8,437.5 L1019.3,437.3 L1019.8,437.1 L1020.3,437.1 L1020.8,437.5 L1021.3,437.2 L1021.8,437.2 L1022.3,437.2 L1022.8,437.1 L1023.3,437.1 L1023.8,437.0 L1024.3,436.9 L1024.8,436.9 L1025.3,437.0 L1025.8,437.0 L1026.3,436.7 L1026.8,435.5 L1027.3,435.8 L1027.8,437.8 L1028.3,437.9 L1028.8,435.9 L1029.3,436.0 L1029.8,436.8 L1030.3,436.6 L1030.8,436.0 L1031.3,436.1 L1031.8,436.3 L1032.3,436.2 L1032.8,436.2 L1033.3,436.2 L1033.8,436.0 L1034.3,436.1 L1034.8,436.2 L1035.3,436.0 L1035.8,435.9 L1036.3,435.7 L1036.8,435.7 L1037.3,435.7 L1037.8,435.7 L1038.3,435.6 L1038.8,435.6 L1039.3,435.6 L1039.8,435.6 L1040.3,435.7 L1040.8,435.5 L1041.3,435.3 L1041.8,435.3 L1042.3,435.4 L1042.8,435.4 L1043.3,435.3 L1043.8,435.2 L1044.3,435.4 L1044.8,435.2 L1045.3,435.3 L1045.8,434.9 L1046.3,434.1 L1046.8,434.0 L1047.3,435.9 L1047.8,435.7 L1048.3,434.6 L1048.8,434.1 L1049.3,435.2 L1049.8,435.0 L1050.3,434.7 L1050.8,434.3 L1051.3,434.4 L1051.8,434.5 L1052.3,434.5 L1052.8,434.5 L1053.3,434.3 L1053.8,434.4 L1054.3,434.3 L1054.8,434.1 L1055.3,434.0 L1055.8,434.0 L1056.3,434.3 L1056.8,434.0 L1057.3,434.0 L1057.8,433.8 L1058.3,434.1 L1058.8,434.1 L1059.3,433.7 L1059.8,433.7 L1060.3,433.9 L1060.8,433.6 L1061.3,433.5 L1061.8,433.6 L1062.3,433.4 L1062.8,433.3 L1063.3,433.5 L1063.8,433.6 L1064.3,433.2 L1064.8,433.5 L1065.3,433.3 L1065.8,432.5 L1066.3,432.3 L1066.8,433.9 L1067.3,434.0 L1067.8,432.5 L1068.3,432.5 L1068.8,433.0 L1069.3,433.3 L1069.8,432.7 L1070.3,432.5 L1070.8,432.9 L1071.3,432.5 L1071.8,432.4 L1072.3,432.6 L1072.8,432.6 L1073.3,432.5 L1073.8,432.5 L1074.3,432.3 L1074.8,432.4 L1075.3,432.3 L1075.8,432.1 L1076.3,432.3 L1076.8,431.9 L1077.3,432.0 L1077.8,432.0 L1078.3,432.1 L1078.8,431.8 L1079.3,431.7 L1079.8,431.8 L1080.3,431.9 L1080.8,431.6 L1081.4,431.6 L1081.9,431.7 L1082.4,431.5 L1082.9,431.6 L1083.4,431.3 L1083.9,431.5 L1084.4,431.1 L1084.9,431.2 L1085.4,431.3 L1085.9,430.5 L1086.4,430.6 L1086.9,431.8 L1087.4,431.8 L1087.9,430.5 L1088.4,430.5 L1088.9,431.0 L1089.4,430.9 L1089.9,430.5 L1090.4,430.6 L1090.9,430.7 L1091.4,430.5 L1091.9,430.3 L1092.4,430.3 L1092.9,430.2 L1093.4,430.2 L1093.9,430.2 L1094.4,430.1 L1094.9,430.2 L1095.4,430.0 L1095.9,430.1 L1096.4,429.8 L1096.9,430.1 L1097.4,429.6 L1097.9,429.8 L1098.4,429.5 L1098.9,429.5 L1099.4,429.7 L1099.9,429.5 L1100.4,429.4 L1100.9,429.2 L1101.4,429.5 L1101.9,429.3 L1102.4,429.0 L1102.9,429.1 L1103.4,429.1 L1103.9,428.8 L1104.4,428.8 L1104.9,428.9 L1105.4,428.5 L1105.9,428.2 L1106.4,429.1 L1106.9,429.2 L1107.4,428.4 L1107.9,428.4 L1108.4,428.8 L1108.9,428.7 L1109.4,428.3 L1109.9,428.0 L1110.4,428.3 L1110.9,428.3 L1111.4,428.1 L1111.9,427.9 L1112.4,428.1 L1112.9,428.0 L1113.4,427.8 L1113.9,427.5 L1114.4,427.6 L1114.9,427.6 L1115.4,427.7 L1115.9,427.7 L1116.4,427.4 L1116.9,427.3 L1117.4,427.3 L1117.9,427.3 L1118.4,427.2 L1118.9,427.0 L1119.4,427.0 L1119.9,427.1 L1120.4,426.9 L1120.9,426.8 L1121.4,426.6 L1121.9,426.6 L1122.4,426.5 L1122.9,426.8 L1123.4,426.5 L1123.9,426.6 L1124.4,426.5 L1124.9,426.0 L1125.4,425.7 L1125.9,426.6 L1126.4,426.5 L1126.9,425.7 L1127.4,425.8 L1127.9,426.3 L1128.4,426.2 L1128.9,425.6 L1129.4,425.8 L1129.9,425.5 L1130.4,425.5 L1130.9,425.4 L1131.4,425.4 L1131.9,425.2 L1132.4,425.2 L1132.9,425.1 L1133.4,425.3 L1133.9,425.3 L1134.4,425.1 L1134.9,424.8 L1135.4,424.8 L1135.9,424.7 L1136.4,425.0 L1136.9,424.8 L1137.4,424.5 L1137.9,424.7 L1138.4,424.4 L1138.9,424.5 L1139.4,424.4 L1139.9,424.4 L1140.4,424.4 L1140.9,424.2 L1141.4,424.0 L1141.9,424.1 L1142.4,424.1 L1142.9,423.8 L1143.4,424.1 L1143.9,423.9 L1144.4,423.3 L1144.9,423.6 L1145.4,424.0 L1145.9,423.9 L1146.4,423.4 L1146.9,423.3 L1147.4,423.3 L1147.9,423.2 L1148.4,423.3 L1148.9,423.1 L1149.4,423.1 L1149.9,423.1 L1150.4,423.1 L1150.9,423.0 L1151.4,422.8 L1151.9,422.8 L1152.4,422.6 L1152.9,422.8 L1153.4,422.6 L1153.9,422.3 L1154.4,422.5 L1154.9,422.6 L1155.4,422.5 L1155.9,422.3 L1156.4,422.2 L1156.9,422.3 L1157.4,422.2 L1157.9,421.9 L1158.4,422.0 L1158.9,422.0 L1159.4,421.7 L1159.9,421.6 L1160.4,421.6 L1160.9,421.4 L1161.4,421.6 L1161.9,421.3 L1162.4,421.4 L1162.9,421.2 L1163.4,421.1 L1163.9,421.3 L1164.4,421.1 L1164.9,420.7 L1165.4,421.3 L1165.9,420.9 L1166.4,420.7 L1166.9,420.6 L1167.4,420.7 L1167.9,420.6 L1168.4,420.4 L1168.9,420.5 L1169.4,420.3 L1169.9,420.4 L1170.4,420.2 L1170.9,420.1 L1171.4,420.1 L1171.9,420.1 L1172.4,420.0 L1172.9,419.8 L1173.4,419.8 L1173.9,419.5 L1174.4,419.8 L1174.9,419.8 L1175.4,419.6 L1175.9,419.6 L1176.4,419.2 L1176.9,419.2 L1177.4,419.0 L1177.9,418.9 L1178.4,419.0 L1178.9,419.0 L1179.4,419.0 L1179.9,419.0 L1180.4,418.6 L1180.9,418.8 L1181.4,418.8 L1181.9,418.5 L1182.4,418.5 L1182.9,418.5 L1183.4,418.3 L1183.9,417.9 L1184.4,417.9 L1184.9,418.2 L1185.4,418.1 L1185.9,417.8 L1186.4,417.7 L1186.9,417.9 L1187.4,417.8 L1187.9,417.7 L1188.4,417.5 L1188.9,417.5 L1189.4,417.3 L1189.9,417.2 L1190.4,417.2 L1190.9,417.1 L1191.4,416.9 L1191.9,416.9 L1192.4,416.7 L1192.9,416.8 L1193.4,416.5 L1193.9,416.6 L1194.4,416.7 L1194.9,416.6 L1195.4,416.5 L1195.9,416.4 L1196.4,416.3 L1196.9,416.3 L1197.4,415.9 L1197.9,416.0 L1198.4,415.8 L1198.9,415.7 L1199.4,415.9 L1199.9,415.7 L1200.4,415.4 L1200.9,415.5 L1201.4,415.4 L1201.9,415.3 L1202.4,415.1 L1202.9,414.9 L1203.4,415.0 L1203.9,415.0 L1204.4,414.8 L1204.9,414.6 L1205.4,414.4 L1205.9,414.6 L1206.4,414.6 L1206.9,414.6 L1207.4,414.2 L1207.9,414.3 L1208.4,414.2 L1208.9,414.2 L1209.4,414.2 L1209.9,413.8 L1210.4,413.8 L1210.9,413.9 L1211.4,413.8 L1211.9,413.4 L1212.4,413.3 L1212.9,413.3 L1213.4,413.1 L1213.9,413.0 L1214.4,413.3 L1214.9,413.0 L1215.4,413.0 L1215.9,412.8 L1216.4,412.5 L1216.9,412.6 L1217.4,412.4 L1217.9,412.3 L1218.4,412.5 L1218.9,412.2 L1219.4,412.2 L1219.9,412.0 L1220.4,411.8 L1220.9,411.8 L1221.4,411.6 L1221.9,411.9 L1222.4,411.8 L1222.9,411.5 L1223.4,411.6 L1223.9,411.2 L1224.4,411.4 L1224.9,411.1 L1225.4,411.1 L1225.9,410.9 L1226.4,410.8 L1226.9,410.9 L1227.4,410.6 L1227.9,410.7 L1228.4,410.7 L1228.9,410.6 L1229.4,410.2 L1229.9,410.0 L1230.4,410.2 L1230.9,410.2 L1231.4,410.0 L1231.9,410.0 L1232.4,409.8 L1232.9,409.6 L1233.4,409.5 L1233.9,409.6 L1234.4,409.5 L1234.9,409.4 L1235.4,409.1 L1235.9,409.0 L1236.4,408.8 L1236.9,408.8 L1237.4,408.8 L1237.9,408.9 L1238.4,408.8 L1238.9,408.7 L1239.4,408.5 L1239.9,408.4 L1240.4,408.1 L1240.9,408.2 L1241.4,408.0 L1241.9,408.0 L1242.4,407.9 L1242.9,407.7 L1243.4,407.8 L1243.9,407.4 L1244.4,407.5 L1244.9,407.2 L1245.4,407.2 L1245.9,407.2 L1246.4,407.2 L1246.9,406.9 L1247.4,407.0 L1247.9,407.0 L1248.4,406.6 L1248.9,406.4 L1249.4,406.6 L1249.9,406.3 L1250.4,406.2 L1250.9,406.1 L1251.4,406.2 L1251.9,406.0 L1252.4,405.8 L1252.9,405.6 L1253.4,405.8 L1253.9,405.5 L1254.4,405.4 L1254.9,405.5 L1255.4,405.3 L1255.9,405.0 L1256.4,405.0 L1256.9,405.2 L1257.4,405.1 L1257.9,404.7 L1258.4,404.6 L1258.9,404.5 L1259.4,404.5 L1259.9,404.6 L1260.4,404.4 L1260.9,404.0 L1261.4,404.3 L1261.9,403.9 L1262.4,403.9 L1262.9,403.9 L1263.4,403.8 L1263.9,403.6 L1264.4,403.6 L1264.9,403.5 L1265.4,403.1 L1265.9,403.4 L1266.4,403.1 L1266.9,403.0 L1267.4,402.9 L1267.9,403.0 L1268.4,402.7 L1268.9,402.8 L1269.4,402.5 L1269.9,402.5 L1270.4,402.4 L1270.9,402.0 L1271.4,402.1 L1271.9,401.9 L1272.4,401.8 L1272.9,401.8 L1273.4,401.6 L1273.9,401.8 L1274.4,401.4 L1274.9,401.3 L1275.4,401.3 L1275.9,401.1 L1276.4,401.3 L1276.9,401.2 L1277.4,400.9 L1277.9,400.9 L1278.4,400.6 L1278.9,400.5 L1279.4,400.4 L1279.9,400.5 L1280.4,400.4 L1280.9,400.0 L1281.4,399.9 L1281.9,399.9 L1282.4,399.9 L1282.9,399.7 L1283.4,399.6 L1283.9,399.4 L1284.4,399.3 L1284.9,399.5 L1285.4,399.3 L1285.9,399.1 L1286.4,398.9 L1286.9,398.7 L1287.4,398.7 L1287.9,398.9 L1288.4,398.6 L1288.9,398.5 L1289.4,398.3 L1289.9,398.4 L1290.4,398.0 L1290.9,398.0 L1291.4,397.8 L1291.9,397.7 L1292.4,397.6 L1292.9,397.7 L1293.4,397.7 L1293.9,397.3 L1294.4,397.2 L1294.9,397.1 L1295.4,397.2 L1295.9,397.2 L1296.4,396.9 L1296.9,396.6 L1297.4,396.8 L1297.9,396.5 L1298.4,396.3 L1298.9,396.5 L1299.4,396.1 L1299.9,396.0 L1300.4,396.3 L1300.9,396.1 L1301.4,395.8 L1301.9,395.7 L1302.4,395.5 L1302.9,395.6 L1303.4,395.4 L1303.9,395.2 L1304.4,395.1 L1304.9,395.2 L1305.4,394.9 L1305.9,394.7 L1306.4,394.6 L1306.9,394.8 L1307.4,394.7 L1307.9,394.5 L1308.4,394.2 L1308.9,394.1 L1309.4,394.0 L1309.9,393.9 L1310.4,393.9 L1310.9,393.7 L1311.4,393.8 L1311.9,393.4 L1312.4,393.3 L1312.9,393.5 L1313.4,393.1 L1313.9,393.2 L1314.4,393.1 L1314.9,393.0 L1315.4,393.0 L1315.9,392.7 L1316.4,392.4 L1316.9,392.3 L1317.4,392.6 L1317.9,392.3 L1318.4,392.1 L1318.9,392.1 L1319.4,391.9 L1319.9,392.0 L1320.4,391.6 L1320.9,391.7 L1321.4,391.7 L1321.9,391.3 L1322.4,391.5 L1322.9,391.2 L1323.4,391.3 L1323.9,391.0 L1324.4,390.9 L1324.9,390.9 L1325.4,390.8 L1325.9,390.4 L1326.4,390.4 L1326.9,390.3 L1327.4,390.2 L1327.9,390.2 L1328.4,389.9 L1328.9,390.0 L1329.4,389.7 L1329.9,389.7 L1330.4,389.7 L1330.9,389.4 L1331.4,389.5 L1331.9,389.4 L1332.4,389.0 L1332.9,389.1 L1333.4,389.0 L1333.9,389.1 L1334.4,388.9 L1334.9,388.6 L1335.4,388.6 L1335.9,388.4 L1336.4,388.2 L1336.9,388.1 L1337.4,388.0 L1337.9,388.0 L1338.4,387.9 L1338.9,387.6 L1339.4,387.5 L1339.9,387.5 L1340.4,387.4 L1340.9,387.3 L1341.4,387.1 L1341.9,387.0 L1342.4,387.0 L1342.9,386.8 L1343.4,386.8 L1343.9,386.9 L1344.4,386.4 L1344.9,386.6 L1345.4,386.5 L1345.9,386.1 L1346.4,386.2 L1346.9,386.0 L1347.4,385.9 L1347.9,385.8 L1348.4,385.8 L1348.9,385.5 L1349.4,385.6 L1349.9,385.4 L1350.4,385.5 L1350.9,385.4 L1351.4,385.3 L1351.9,385.3 L1352.4,385.0 L1352.9,384.7 L1353.4,384.9 L1353.9,384.5 L1354.4,384.7 L1354.9,384.6 L1355.4,384.2 L1355.9,384.2 L1356.4,384.2 L1356.9,384.0 L1357.4,384.1 L1357.9,383.6 L1358.4,383.8 L1358.9,383.5 L1359.4,383.5 L1359.9,383.5 L1360.4,383.5 L1360.9,383.1 L1361.4,383.2 L1361.9,382.8 L1362.4,383.1 L1362.9,382.8 L1363.4,382.6 L1363.9,382.7 L1364.4,382.3 L1364.9,382.5 L1365.4,382.5 L1365.9,382.4 L1366.4,382.0 L1366.9,381.9 L1367.4,382.1 L1367.9,382.0 L1368.4,381.9 L1368.9,381.8 L1369.4,381.5 L1369.9,381.2 L1370.4,381.4 L1370.9,381.4 L1371.4,381.0 L1371.9,380.9 L1372.4,380.8 L1372.9,380.9 L1373.4,380.7 L1373.9,380.4 L1374.4,380.5 L1374.9,380.3 L1375.4,380.4 L1375.9,380.2 L1376.4,380.0 L1376.9,379.8 L1377.4,379.7 L1377.9,379.9 L1378.4,379.7 L1378.9,379.5 L1379.4,379.6 L1379.9,379.2 L1380.4,379.4 L1380.9,379.1 L1381.4,379.2 L1381.9,378.9 L1382.4,378.7 L1382.9,378.7 L1383.4,378.8 L1383.9,378.7 L1384.4,378.6 L1384.9,378.3 L1385.4,378.4 L1385.9,378.0 L1386.4,378.0 L1386.9,378.2 L1387.4,377.9 L1387.9,377.9 L1388.4,377.8 L1388.9,377.5 L1389.4,377.4 L1389.9,377.5 L1390.4,377.3 L1390.9,377.3 L1391.4,377.3 L1391.9,377.0 L1392.4,377.1 L1392.9,376.9 L1393.4,376.9 L1393.9,376.6 L1394.4,376.8 L1394.9,376.5 L1395.4,376.5 L1395.9,376.4 L1396.4,376.3 L1396.9,376.0 L1397.4,375.8 L1397.9,375.7 L1398.4,376.0 L1398.9,375.5 L1399.4,375.7 L1399.9,375.5 L1400.4,375.4 L1400.9,375.5 L1401.4,375.2 L1401.9,374.9 L1402.4,375.1 L1402.9,374.7 L1403.4,374.8 L1403.9,374.8 L1404.4,374.6 L1404.9,374.7 L1405.4,374.3 L1405.9,374.3 L1406.4,374.4 L1406.9,374.3 L1407.4,374.1 L1407.9,373.9 L1408.4,373.7 L1408.9,373.9 L1409.4,373.6 L1409.9,373.7 L1410.4,373.4 L1410.9,373.4 L1411.4,373.1 L1411.9,373.2 L1412.4,373.3 L1412.9,373.0 L1413.4,372.9 L1413.9,372.7 L1414.4,372.9 L1414.9,372.8 L1415.4,372.4 L1415.9,372.7 L1416.4,372.5 L1416.9,372.3 L1417.4,372.4 L1418.0,372.3 L1418.5,372.1 L1419.0,372.1 L1419.5,371.6 L1420.0,371.6 L1420.5,371.7 L1421.0,371.7 L1421.5,371.3 L1422.0,371.3 L1422.5,371.2 L1423.0,371.3 L1423.5,371.1 L1424.0,371.1 L1424.5,371.0 L1425.0,370.7 L1425.5,371.0 L1426.0,370.8 L1426.5,370.5 L1427.0,370.4 L1427.5,370.2 L1428.0,370.5 L1428.5,370.1 L1429.0,370.3 L1429.5,370.0 L1430.0,370.0 L1430.5,369.8 L1431.0,369.9 L1431.5,369.8 L1432.0,369.8 L1432.5,369.5 L1433.0,369.3 L1433.5,369.4 L1434.0,369.0 L1434.5,369.2 L1435.0,368.9 L1435.5,369.2 L1436.0,369.1 L1436.5,368.9 L1437.0,368.8 L1437.5,368.5 L1438.0,368.4 L1438.5,368.7 L1439.0,368.2 L1439.5,368.3 L1440.0,368.1 L1440.5,368.2 L1441.0,368.2 L1441.5,367.8 L1442.0,367.8 L1442.5,367.8 L1443.0,367.8 L1443.5,367.7 L1444.0,367.5 L1444.5,367.3 L1445.0,367.6 L1445.5,367.6 L1446.0,367.2 L1446.5,367.4 L1447.0,367.0 L1447.5,367.1 L1448.0,367.0 L1448.5,367.1 L1449.0,366.7 L1449.5,366.9 L1450.0,366.6 L1450.5,366.5 L1451.0,366.4 L1451.5,366.4 L1452.0,366.2 L1452.5,366.5 L1453.0,366.0 L1453.5,366.3 L1454.0,366.1 L1454.5,365.9 L1455.0,365.9 L1455.5,365.9 L1456.0,365.9 L1456.5,365.7 L1457.0,365.5 L1457.5,365.5 L1458.0,365.5 L1458.5,365.5 L1459.0,365.6 L1459.5,365.2 L1460.0,365.2 L1460.5,365.2 L1461.0,365.2 L1461.5,365.0 L1462.0,365.0 L1462.5,365.1 L1463.0,364.6 L1463.5,364.6 L1464.0,364.6 L1464.5,364.7 L1465.0,364.5 L1465.5,364.5 L1466.0,364.5 L1466.5,364.4 L1467.0,364.3 L1467.5,364.5 L1468.0,364.2 L1468.5,363.9 L1469.0,364.2 L1469.5,364.2 L1470.0,363.8 L1470.5,363.9 L1471.0,363.6 L1471.5,363.7 L1472.0,363.9 L1472.5,363.6 L1473.0,363.5 L1473.5,363.4 L1474.0,363.3 L1474.5,363.2 L1475.0,363.1 L1475.5,363.4 L1476.0,363.3 L1476.5,363.0 L1477.0,362.9 L1477.5,363.3 L1478.0,363.1 L1478.5,362.8 L1479.0,363.1 L1479.5,362.9 L1480.0,362.7 L1480.5,362.5 L1481.0,362.5 L1481.5,362.5 L1482.0,362.4 L1482.5,362.5 L1483.0,362.5 L1483.5,362.3 L1484.0,362.2 L1484.5,362.4 L1485.0,362.2 L1485.5,362.4 L1486.0,362.0 L1486.5,362.0 L1487.0,362.1 L1487.5,361.8 L1488.0,362.1 L1488.5,361.7 L1489.0,361.9 L1489.5,361.7 L1490.0,361.8 L1490.5,361.5 L1491.0,361.7 L1491.5,361.4 L1492.0,361.5 L1492.5,361.4 L1493.0,361.2 L1493.5,361.5 L1494.0,361.1 L1494.5,361.0 L1495.0,361.4 L1495.5,361.3 L1496.0,360.9 L1496.5,360.9 L1497.0,361.0 L1497.5,360.8 L1498.0,360.9 L1498.5,361.0 L1499.0,360.9 L1499.5,360.8 L1500.0,360.5 L1500.5,360.7 L1501.0,360.8 L1501.5,360.7 L1502.0,360.6 L1502.5,360.5 L1503.0,360.5 L1503.5,360.2 L1504.0,360.1 L1504.5,360.4 L1505.0,360.2 L1505.5,360.3 L1506.0,360.0 L1506.5,360.1 L1507.0,360.0 L1507.5,360.1 L1508.0,359.8 L1508.5,359.9 L1509.0,360.0 L1509.5,359.6 L1510.0,359.7 L1510.5,359.7 L1511.0,359.7 L1511.5,359.7 L1512.0,359.6 L1512.5,359.7 L1513.0,359.5 L1513.5,359.4 L1514.0,359.6 L1514.5,359.4 L1515.0,359.2 L1515.5,359.2 L1516.0,359.4 L1516.5,359.4 L1517.0,359.2 L1517.5,359.0 L1518.0,359.1 L1518.5,359.2 L1519.0,358.9 L1519.5,358.9 L1520.0,358.8 L1520.5,358.8 L1521.0,358.7 L1521.5,358.7 L1522.0,358.6 L1522.5,358.7 L1523.0,358.5 L1523.5,358.5 L1524.0,358.5 L1524.5,358.5 L1525.0,358.5 L1525.5,358.5 L1526.0,358.3 L1526.5,358.2 L1527.0,358.3 L1527.5,358.3 L1528.0,358.5 L1528.5,358.0 L1529.0,358.4 L1529.5,358.0 L1530.0,358.2 L1530.5,358.2 L1531.0,358.2 L1531.5,357.9 L1532.0,358.1 L1532.5,357.8 L1533.0,357.9 L1533.5,358.1 L1534.0,358.0 L1534.5,357.8 L1535.0,357.6 L1535.5,357.7 L1536.0,357.7 L1536.5,357.9 L1537.0,357.5 L1537.5,357.7 L1538.0,357.7 L1538.5,357.4 L1539.0,357.6 L1539.5,357.7 L1540.0,357.4 L1540.5,357.3 L1541.0,357.3 L1541.5,357.3 L1542.0,357.3 L1542.5,357.2 L1543.0,357.4 L1543.5,357.1 L1544.0,357.3 L1544.5,357.1 L1545.0,356.9 L1545.5,356.9 L1546.0,357.0 L1546.5,357.1 L1547.0,356.8 L1547.5,357.1 L1548.0,356.7 L1548.5,357.0 L1549.0,356.7 L1549.5,356.8 L1550.0,356.8 L1550.5,356.6 L1551.0,356.6 L1551.5,356.5 L1552.0,356.8 L1552.5,356.6 L1553.0,356.6 L1553.5,356.5 L1554.0,356.7 L1554.5,356.5 L1555.0,356.4 L1555.5,356.5 L1556.0,356.4 L1556.5,356.3 L1557.0,356.1 L1557.5,356.5 L1558.0,356.1 L1558.5,356.2 L1559.0,356.3 L1559.5,356.0 L1560.0,356.0 L1560.5,355.9 L1561.0,355.9 L1561.5,356.1 L1562.0,355.9 L1562.5,355.8 L1563.0,356.1 L1563.5,355.8 L1564.0,355.9 L1564.5,355.9 L1565.0,355.9 L1565.5,355.7 L1566.0,355.8 L1566.5,355.9 L1567.0,355.7 L1567.5,355.6 L1568.0,355.5 L1568.5,355.5 L1569.0,355.6 L1569.5,355.7 L1570.0,355.6 L1570.5,355.6 L1571.0,355.5 L1571.5,355.4 L1572.0,355.6 L1572.5,355.2 L1573.0,355.3 L1573.5,355.3 L1574.0,355.2 L1574.5,355.1 L1575.0,355.2 L1575.5,355.5 L1576.0,355.3 L1576.5,355.0 L1577.0,355.3 L1577.5,355.3 L1578.0,355.3 L1578.5,355.0 L1579.0,355.2 L1579.5,354.8 L1580.0,354.9 L1580.5,355.0 L1581.0,354.9 L1581.5,355.0 L1582.0,355.0 L1582.5,354.8 L1583.0,354.7 L1583.5,354.6 L1584.0,354.8 L1584.5,355.0 L1585.0,354.8 L1585.5,354.7 L1586.0,354.9 L1586.5,354.9"/>
<path stroke="#ff0000" d="M238.1,553.8 L242.1,554.4 L246.1,555.0 L250.0,555.5 L254.0,556.1 L258.0,556.6 L262.0,557.1 L265.9,557.6 L269.9,558.1 L273.9,558.6 L277.9,559.1 L281.9,559.5 L285.8,559.9 L289.8,560.4 L293.8,560.8 L297.8,561.2 L301.7,561.5 L305.7,561.9 L309.7,562.3 L313.7,562.6 L317.7,563.0 L321.6,563.3 L325.6,563.6 L329.6,563.9 L333.6,564.3 L337.5,564.6 L341.5,564.9 L345.5,565.2 L349.5,565.4 L353.4,565.7 L357.4,566.0 L361.4,566.3 L365.4,566.5 L369.4,566.8 L373.3,567.0 L377.3,567.3 L381.3,567.5 L385.3,567.7 L389.2,567.9 L393.2,568.1 L397.2,568.3 L401.2,568.4 L405.2,568.6 L409.1,568.7 L413.1,568.9 L417.1,569.0 L421.1,569.1 L425.0,569.2 L429.0,569.3 L433.0,569.4 L437.0,569.5 L441.0,569.5 L444.9,569.6 L448.9,569.6 L452.9,569.6 L456.9,569.6 L460.8,569.6 L464.8,569.6 L468.8,569.6 L472.8,569.6 L476.8,569.6 L480.7,569.6 L484.7,569.6 L488.7,569.6 L492.7,569.6 L496.6,569.6 L500.6,569.6 L504.6,569.6 L508.6,569.6 L512.6,569.6 L516.5,569.6 L520.5,569.6 L524.5,569.6 L528.5,569.6 L532.4,569.7 L536.4,569.7 L540.4,569.7 L544.4,569.7 L548.4,569.7 L552.3,569.7 L556.3,569.7 L560.3,569.7 L564.3,569.8 L568.2,569.8 L572.2,569.8 L576.2,569.8 L580.2,569.8 L584.1,569.8 L588.1,569.8 L592.1,569.9 L596.1,569.9 L600.1,569.9 L604.0,569.9 L608.0,569.9 L612.0,570.0 L616.0,570.0 L619.9,570.0 L623.9,570.0 L627.9,570.0 L631.9,570.1 L635.9,570.1 L639.8,570.1 L643.8,570.1 L647.8,570.2 L651.8,570.2 L655.7,570.2 L659.7,570.2 L663.7,570.2 L667.7,570.3 L671.7,570.3 L675.6,570.3 L679.6,570.3 L683.6,570.3 L687.6,570.3 L691.5,570.3 L695.5,570.3 L699.5,570.3 L703.5,570.3 L707.5,570.3 L711.4,570.3 L715.4,570.3 L719.4,570.3 L723.4,570.3 L727.3,570.3 L731.3,570.3 L735.3,570.3 L739.3,570.3 L743.3,570.3 L747.2,570.3 L751.2,570.3 L755.2,570.3 L759.2,570.3 L763.1,570.3 L767.1,570.3 L771.1,570.3 L775.1,570.3 L779.1,570.3 L783.0,570.3 L787.0,570.3 L791.0,570.3 L795.0,570.3 L798.9,570.3 L802.9,570.3 L806.9,570.3 L810.9,570.3 L814.8,570.3 L818.8,570.3 L822.8,570.3 L826.8,570.3 L830.8,570.3 L834.7,570.3 L838.7,570.3 L842.7,570.3 L846.7,570.3 L850.6,570.3 L854.6,570.3 L858.6,570.3 L862.6,570.3 L866.6,570.3 L870.5,570.3 L874.5,570.3 L878.5,570.3 L882.5,570.3 L886.4,570.3 L890.4,570.3 L894.4,570.3 L898.4,570.3 L902.4,570.3 L906.3,570.3 L910.3,570.3 L914.3,570.3 L918.3,570.3 L922.2,570.3 L926.2,570.3 L930.2,570.3 L934.2,570.3 L938.2,570.3 L942.1,570.3 L946.1,570.3 L950.1,570.3 L954.1,570.3 L958.0,570.2 L962.0,570.2 L966.0,570.1 L970.0,570.1 L974.0,570.0 L977.9,570.0 L981.9,569.9 L985.9,569.9 L989.9,569.8 L993.8,569.7 L997.8,569.7 L1001.8,569.6 L1005.8,569.5 L1009.8,569.5 L1013.7,569.4 L1017.7,569.3 L1021.7,569.2 L1025.7,569.2 L1029.6,569.1 L1033.6,569.0 L1037.6,568.9 L1041.6,568.8 L1045.5,568.7 L1049.5,568.6 L1053.5,568.5 L1057.5,568.4 L1061.5,568.3 L1065.4,568.2 L1069.4,568.1 L1073.4,568.0 L1077.4,567.9 L1081.3,567.8 L1085.3,567.7 L1089.3,567.5 L1093.3,567.4 L1097.3,567.3 L1101.2,567.2 L1105.2,567.0 L1109.2,566.9 L1113.2,566.8 L1117.1,566.6 L1121.1,566.5 L1125.1,566.3 L1129.1,566.2 L1133.1,566.1 L1137.0,565.9 L1141.0,565.7 L1145.0,565.6 L1149.0,565.4 L1152.9,565.3 L1156.9,565.1 L1160.9,564.9 L1164.9,564.7 L1168.9,564.5 L1172.8,564.3 L1176.8,564.1 L1180.8,563.9 L1184.8,563.7 L1188.7,563.5 L1192.7,563.3 L1196.7,563.0 L1200.7,562.8 L1204.7,562.5 L1208.6,562.3 L1212.6,562.0 L1216.6,561.7 L1220.6,561.4 L1224.5,561.1 L1228.5,560.8 L1232.5,560.4 L1236.5,560.1 L1240.5,559.8 L1244.4,559.4 L1248.4,559.0 L1252.4,558.6 L1256.4,558.2 L1260.3,557.8 L1264.3,557.4 L1268.3,556.9 L1272.3,556.5 L1276.2,556.0 L1280.2,555.5 L1284.2,555.0 L1288.2,554.4 L1292.2,553.9 L1296.1,553.3 L1300.1,552.8 L1304.1,552.2 L1308.1,551.6 L1312.0,550.9 L1316.0,550.3 L1320.0,549.7 L1324.0,549.0 L1328.0,548.3 L1331.9,547.7 L1335.9,547.0 L1339.9,546.3 L1343.9,545.6 L1347.8,544.8 L1351.8,544.1 L1355.8,543.4 L1359.8,542.7 L1363.8,541.9 L1367.7,541.2 L1371.7,540.4 L1375.7,539.6 L1379.7,538.9 L1383.6,538.1 L1387.6,537.3 L1391.6,536.5 L1395.6,535.8 L1399.6,535.0 L1403.5,534.2 L1407.5,533.4 L1411.5,532.6 L1415.5,531.8 L1419.4,531.0 L1423.4,530.2 L1427.4,529.4 L1431.4,528.6 L1435.4,527.8 L1439.3,527.1 L1443.3,526.3 L1447.3,525.5 L1451.3,524.8 L1455.2,524.0 L1459.2,523.3 L1463.2,522.6 L1467.2,521.9 L1471.2,521.1 L1475.1,520.5 L1479.1,519.8 L1483.1,519.1 L1487.1,518.4 L1491.0,517.8 L1495.0,517.2 L1499.0,516.5 L1503.0,515.9 L1506.9,515.3 L1510.9,514.7 L1514.9,514.1 L1518.9,513.6 L1522.9,513.0 L1526.8,512.5 L1530.8,511.9 L1534.8,511.4 L1538.8,510.9 L1542.7,510.3 L1546.7,509.8 L1550.7,509.3 L1554.7,508.8 L1558.7,508.3 L1562.6,507.8 L1566.6,507.3 L1570.6,506.8 L1574.6,506.3 L1578.5,505.8 L1582.5,505.4 L1586.5,504.9"/>
</g>
<g fill="#000" shape-rendering="crispEdges">
<rect x="229" y="334" width="1" height="259"/>
<rect x="225" y="582" width="4" height="1"/>
<rect x="221" y="570" width="8" height="1"/>
<rect x="225" y="559" width="4" height="1"/>
<rect x="225" y="548" width="4" height="1"/>
<rect x="225" y="536" width="4" height="1"/>
<rect x="225" y="525" width="4" height="1"/>
<rect x="221" y="514" width="8" height="1"/>
<rect x="225" y="502" width="4" height="1"/>
<rect x="225" y="491" width="4" height="1"/>
<rect x="225" y="480" width="4" height="1"/>
<rect x="225" y="468" width="4" height="1"/>
<rect x="221" y="457" width="8" height="1"/>
<rect x="225" y="446" width="4" height="1"/>
<rect x="225" y="434" width="4" height="1"/>
<rect x="225" y="423" width="4" height="1"/>
<rect x="225" y="412" width="4" height="1"/>
<rect x="221" y="400" width="8" height="1"/>
<rect x="225" y="389" width="4" height="1"/>
<rect x="225" y="378" width="4" height="1"/>
<rect x="225" y="366" width="4" height="1"/>
<rect x="225" y="355" width="4" height="1"/>
<rect x="221" y="344" width="8" height="1"/>
<rect x="238" y="602" width="1349" height="1"/>
<rect x="238" y="602" width="1" height="8"/>
<rect x="304" y="602" width="1" height="4"/>
<rect x="370" y="602" width="1" height="6"/>
<rect x="436" y="602" width="1" height="4"/>
<rect x="501" y="602" width="1" height="8"/>
<rect x="567" y="602" width="1" height="4"/>
<rect x="633" y="602" width="1" height="6"/>
<rect x="699" y="602" width="1" height="4"/>
<rect x="765" y="602" width="1" height="8"/>
<rect x="831" y="602" width="1" height="4"/>
<rect x="897" y="602" width="1" height="6"/>
<rect x="962" y="602" width="1" height="4"/>
<rect x="1028" y="602" width="1" height="8"/>
<rect x="1094" y="602" width="1" height="4"/>
<rect x="1160" y="602" width="1" height="6"/>
<rect x="1226" y="602" width="1" height="4"/>
<rect x="1292" y="602" width="1" height="8"/>
<rect x="1358" y="602" width="1" height="4"/>
<rect x="1423" y="602" width="1" height="6"/>
<rect x="1489" y="602" width="1" height="4"/>
<rect x="1555" y="602" width="1" height="8"/>
</g>
<g class="tl" text-anchor="end">
<text x="216.5" y="352">1</text>
<text x="216.5" y="408">0.5</text>
<text x="216.5" y="465">0</text>
<text x="216.5" y="522">-0.5</text>
<text x="216.5" y="579">-1</text>
</g>
<g class="tl" text-anchor="middle">
<text x="238.5" y="631.6">0</text>
<text x="501.5" y="631.6">200</text>
<text x="765.5" y="631.6">400</text>
<text x="1028.5" y="631.6">600</text>
<text x="1292.5" y="631.6">800</text>
</g>
<text class="tl" text-anchor="end" x="1586.5" y="631.6">1,000</text>
<text class="at" text-anchor="middle" x="913" y="661.2">Time (us)</text>
<text class="at" text-anchor="middle" transform="translate(143,463.6) rotate(-90)">Amplitude</text>
<text class="pt" text-anchor="middle" x="913" y="315">Frequency modulated signal: information on carrier</text>
<rect x="232" y="750" width="1362" height="391" fill="#fff"/>
<g fill="#9f9d9a"><rect x="232" y="750" width="1361" height="2"/><rect x="232" y="750" width="2" height="390"/></g>
<g fill="#fff"><rect x="233" y="1139" width="1361" height="2"/><rect x="1592" y="751" width="2" height="390"/></g>
<clipPath id="c2"><rect x="234" y="752" width="1358" height="387"/></clipPath>
<g clip-path="url(#c2)" fill="none" stroke-width="1.1" stroke-opacity="0.86" stroke-linejoin="round">
<path stroke="#0000ff" d="M237.8,1051.0 L242.3,1049.9 L247.4,1047.7 L252.5,1048.9 L257.6,1048.9 L262.7,1045.2 L268.9,1040.7 L275.0,1039.1 L282.2,1037.0 L288.3,1033.6 L294.4,1030.5 L298.5,1027.4 L302.6,1023.1 L308.8,1022.1 L311.8,1022.3 L319.0,1019.9 L324.1,1021.3 L329.2,1022.9 L335.3,1021.7 L340.5,1024.8 L343.9,1029.3 L347.2,1036.6 L351.7,1043.2 L356.4,1045.4 L361.9,1044.6 L368.1,1045.8 L373.2,1045.8 L378.3,1042.8 L382.4,1040.5 L387.5,1036.6 L393.0,1032.5 L397.7,1033.8 L403.5,1033.8 L410.0,1038.1 L414.1,1039.1 L421.3,1038.9 L427.4,1040.5 L432.5,1044.2 L437.6,1046.9 L441.7,1046.7 L445.8,1045.4 L449.9,1047.7 L454.0,1050.1 L461.2,1048.9 L465.2,1049.1 L471.4,1051.0 L476.5,1052.2 L480.6,1050.5 L485.7,1047.5 L491.8,1044.4 L498.0,1040.9 L506.2,1038.7 L513.3,1036.6 L518.4,1038.5 L525.6,1044.2 L530.7,1042.2 L535.8,1042.0 L540.9,1044.8 L546.0,1048.1 L551.6,1050.3 L556.3,1047.3 L562.4,1044.8 L567.5,1044.0 L573.7,1040.1 L576.1,1038.1 L581.3,1033.0 L585.3,1028.9 L590.5,1027.6 L595.6,1027.8 L601.7,1028.9 L607.8,1033.0 L613.0,1038.1 L619.1,1040.7 L625.2,1044.8 L630.3,1050.3 L635.5,1053.0 L639.5,1052.0 L643.6,1050.5 L648.8,1052.0 L652.8,1053.0 L658.0,1051.0 L663.1,1047.3 L670.2,1043.8 L675.3,1039.1 L681.5,1033.0 L688.6,1027.8 L694.8,1026.8 L700.9,1025.2 L705.4,1024.8 L711.1,1027.6 L717.3,1030.5 L722.4,1035.4 L728.5,1039.3 L735.7,1039.9 L741.8,1041.5 L748.0,1043.4 L755.1,1044.8 L763.3,1044.8 L768.4,1043.8 L776.6,1043.8 L782.7,1045.6 L787.9,1047.7 L791.9,1049.1 L797.1,1046.9 L805.2,1040.1 L810.4,1038.7 L814.4,1038.3 L820.6,1039.7 L826.7,1042.4 L831.8,1041.5 L838.0,1040.7 L844.1,1043.0 L849.2,1042.8 L854.3,1039.1 L859.4,1035.0 L864.6,1033.6 L869.7,1034.6 L874.8,1036.0 L878.9,1036.8 L882.6,1035.8 L886.0,1037.0 L892.2,1036.0 L897.3,1029.9 L902.4,1026.8 L907.5,1027.2 L910.0,1028.9 L916.1,1033.6 L923.3,1038.7 L929.4,1039.1 L932.5,1039.9 L943.8,1039.9 L948.9,1041.1 L958.1,1039.5 L963.2,1040.1 L971.4,1040.1 L978.5,1038.1 L986.7,1037.9 L991.8,1036.0 L996.9,1033.0 L1003.1,1033.0 L1008.2,1036.6 L1014.3,1044.2 L1019.4,1049.3 L1024.6,1051.0 L1029.7,1051.0 L1033.8,1049.7 L1037.8,1051.0 L1043.0,1052.0 L1048.1,1050.8 L1054.2,1052.0 L1058.3,1051.0 L1063.4,1046.3 L1069.6,1041.8 L1074.7,1040.7 L1081.8,1043.8 L1086.9,1043.8 L1094.1,1037.7 L1100.2,1034.6 L1105.4,1035.0 L1110.5,1036.8 L1115.6,1037.0 L1120.7,1038.3 L1127.9,1034.6 L1136.0,1030.9 L1141.2,1030.9 L1147.3,1033.4 L1153.4,1036.4 L1158.5,1038.1 L1162.6,1038.1 L1170.8,1041.1 L1175.9,1044.8 L1181.7,1048.9 L1187.2,1048.9 L1193.3,1050.5 L1200.5,1051.8 L1205.6,1050.3 L1211.7,1046.9 L1216.8,1044.2 L1223.0,1042.0 L1228.1,1043.0 L1234.2,1044.0 L1241.4,1039.1 L1248.5,1035.0 L1250.0,1034.0 L1257.2,1030.9 L1261.3,1031.9 L1266.4,1036.0 L1272.5,1040.5 L1278.6,1043.8 L1284.8,1047.3 L1289.9,1048.1 L1295.0,1046.9 L1302.2,1041.8 L1309.3,1039.3 L1314.4,1038.3 L1319.5,1036.8 L1325.7,1037.0 L1331.8,1040.7 L1336.9,1042.0 L1343.1,1040.5 L1348.2,1039.7 L1355.3,1040.9 L1361.5,1039.3 L1367.6,1037.5 L1375.8,1033.4 L1383.0,1031.7 L1390.1,1030.7 L1395.2,1031.7 L1404.4,1035.4 L1411.6,1040.7 L1418.8,1045.4 L1425.9,1045.8 L1434.1,1043.0 L1441.3,1042.8 L1448.4,1041.1 L1453.5,1038.3 L1460.7,1033.4 L1467.9,1032.1 L1474.0,1031.1 L1480.1,1033.4 L1487.3,1036.0 L1494.4,1036.0 L1502.6,1033.0 L1509.8,1031.9 L1516.9,1031.7 L1524.1,1029.9 L1533.3,1029.7 L1538.4,1028.5 L1543.5,1029.7 L1549.7,1034.6 L1554.8,1042.2 L1560.9,1046.9 L1566.0,1046.3 L1571.2,1044.6 L1576.3,1048.3 L1582.4,1054.4 L1586.1,1055.9"/>
</g>
<g fill="#000" shape-rendering="crispEdges">
<rect x="229" y="759" width="1" height="376"/>
<rect x="221" y="1134" width="8" height="1"/>
<rect x="225" y="1125" width="4" height="1"/>
<rect x="225" y="1115" width="4" height="1"/>
<rect x="225" y="1106" width="4" height="1"/>
<rect x="225" y="1097" width="4" height="1"/>
<rect x="221" y="1087" width="8" height="1"/>
<rect x="225" y="1078" width="4" height="1"/>
<rect x="225" y="1068" width="4" height="1"/>
<rect x="225" y="1059" width="4" height="1"/>
<rect x="225" y="1050" width="4" height="1"/>
<rect x="221" y="1040" width="8" height="1"/>
<rect x="225" y="1031" width="4" height="1"/>
<rect x="225" y="1022" width="4" height="1"/>
<rect x="225" y="1012" width="4" height="1"/>
<rect x="225" y="1003" width="4" height="1"/>
<rect x="221" y="993" width="8" height="1"/>
<rect x="225" y="984" width="4" height="1"/>
<rect x="225" y="975" width="4" height="1"/>
<rect x="225" y="965" width="4" height="1"/>
<rect x="225" y="956" width="4" height="1"/>
<rect x="221" y="947" width="8" height="1"/>
<rect x="225" y="937" width="4" height="1"/>
<rect x="225" y="928" width="4" height="1"/>
<rect x="225" y="918" width="4" height="1"/>
<rect x="225" y="909" width="4" height="1"/>
<rect x="221" y="900" width="8" height="1"/>
<rect x="225" y="890" width="4" height="1"/>
<rect x="225" y="881" width="4" height="1"/>
<rect x="225" y="872" width="4" height="1"/>
<rect x="225" y="862" width="4" height="1"/>
<rect x="221" y="853" width="8" height="1"/>
<rect x="225" y="843" width="4" height="1"/>
<rect x="225" y="834" width="4" height="1"/>
<rect x="225" y="825" width="4" height="1"/>
<rect x="225" y="815" width="4" height="1"/>
<rect x="221" y="806" width="8" height="1"/>
<rect x="225" y="797" width="4" height="1"/>
<rect x="225" y="787" width="4" height="1"/>
<rect x="225" y="778" width="4" height="1"/>
<rect x="225" y="768" width="4" height="1"/>
<rect x="221" y="759" width="8" height="1"/>
<rect x="238" y="1143" width="1349" height="1"/>
<rect x="238" y="1143" width="1" height="8"/>
<rect x="296" y="1143" width="1" height="4"/>
<rect x="354" y="1143" width="1" height="4"/>
<rect x="412" y="1143" width="1" height="4"/>
<rect x="470" y="1143" width="1" height="4"/>
<rect x="528" y="1143" width="1" height="8"/>
<rect x="587" y="1143" width="1" height="4"/>
<rect x="645" y="1143" width="1" height="4"/>
<rect x="703" y="1143" width="1" height="4"/>
<rect x="761" y="1143" width="1" height="4"/>
<rect x="819" y="1143" width="1" height="8"/>
<rect x="877" y="1143" width="1" height="4"/>
<rect x="935" y="1143" width="1" height="4"/>
<rect x="993" y="1143" width="1" height="4"/>
<rect x="1051" y="1143" width="1" height="4"/>
<rect x="1109" y="1143" width="1" height="8"/>
<rect x="1168" y="1143" width="1" height="4"/>
<rect x="1226" y="1143" width="1" height="4"/>
<rect x="1284" y="1143" width="1" height="4"/>
<rect x="1342" y="1143" width="1" height="4"/>
<rect x="1400" y="1143" width="1" height="8"/>
<rect x="1458" y="1143" width="1" height="4"/>
<rect x="1516" y="1143" width="1" height="4"/>
<rect x="1574" y="1143" width="1" height="4"/>
</g>
<g class="tl" text-anchor="end">
<text x="216.5" y="768">3</text>
<text x="216.5" y="814">2.5</text>
<text x="216.5" y="861">2</text>
<text x="216.5" y="908">1.5</text>
<text x="216.5" y="955">1</text>
<text x="216.5" y="1001">0.5</text>
<text x="216.5" y="1048">0</text>
<text x="216.5" y="1095">-0.5</text>
<text x="216.5" y="1142">-1</text>
</g>
<g class="tl" text-anchor="middle">
<text x="238.5" y="1172.6">0</text>
<text x="528.5" y="1172.6">5</text>
<text x="819.5" y="1172.6">10</text>
<text x="1109.5" y="1172.6">15</text>
<text x="1400.5" y="1172.6">20</text>
</g>
<text class="at" text-anchor="middle" x="912.5" y="1201.8">Time (ms)</text>
<text class="at" text-anchor="middle" transform="translate(143,946.8) rotate(-90)">Amplitude</text>
<text class="pt" text-anchor="middle" x="913" y="737.3">Information Signal</text>
  <!-- radio buttons -->
  <g fill="#fff" stroke="#9d9b98" stroke-width="1">
    <circle cx="132" cy="203" r="10.5"/><circle cx="626" cy="203" r="10.5"/><circle cx="1119" cy="203" r="10.5"/>
  </g>
  <circle cx="132" cy="203.1" r="4.85" fill="#4b4b4b" stroke="#3c3c3c" stroke-width="0.6"/>
  <!-- mouse cursor -->
  <path d="M1603.9,356.8 L1603.9,368.4 L1606.6,365.9 L1609.2,371.2 L1611.3,370.4 L1609,365.1 L1612.3,365.1 Z" fill="#000" stroke="#fff" stroke-width="2.2" stroke-linejoin="round" paint-order="stroke"/>
</svg>
</body>
</html>
